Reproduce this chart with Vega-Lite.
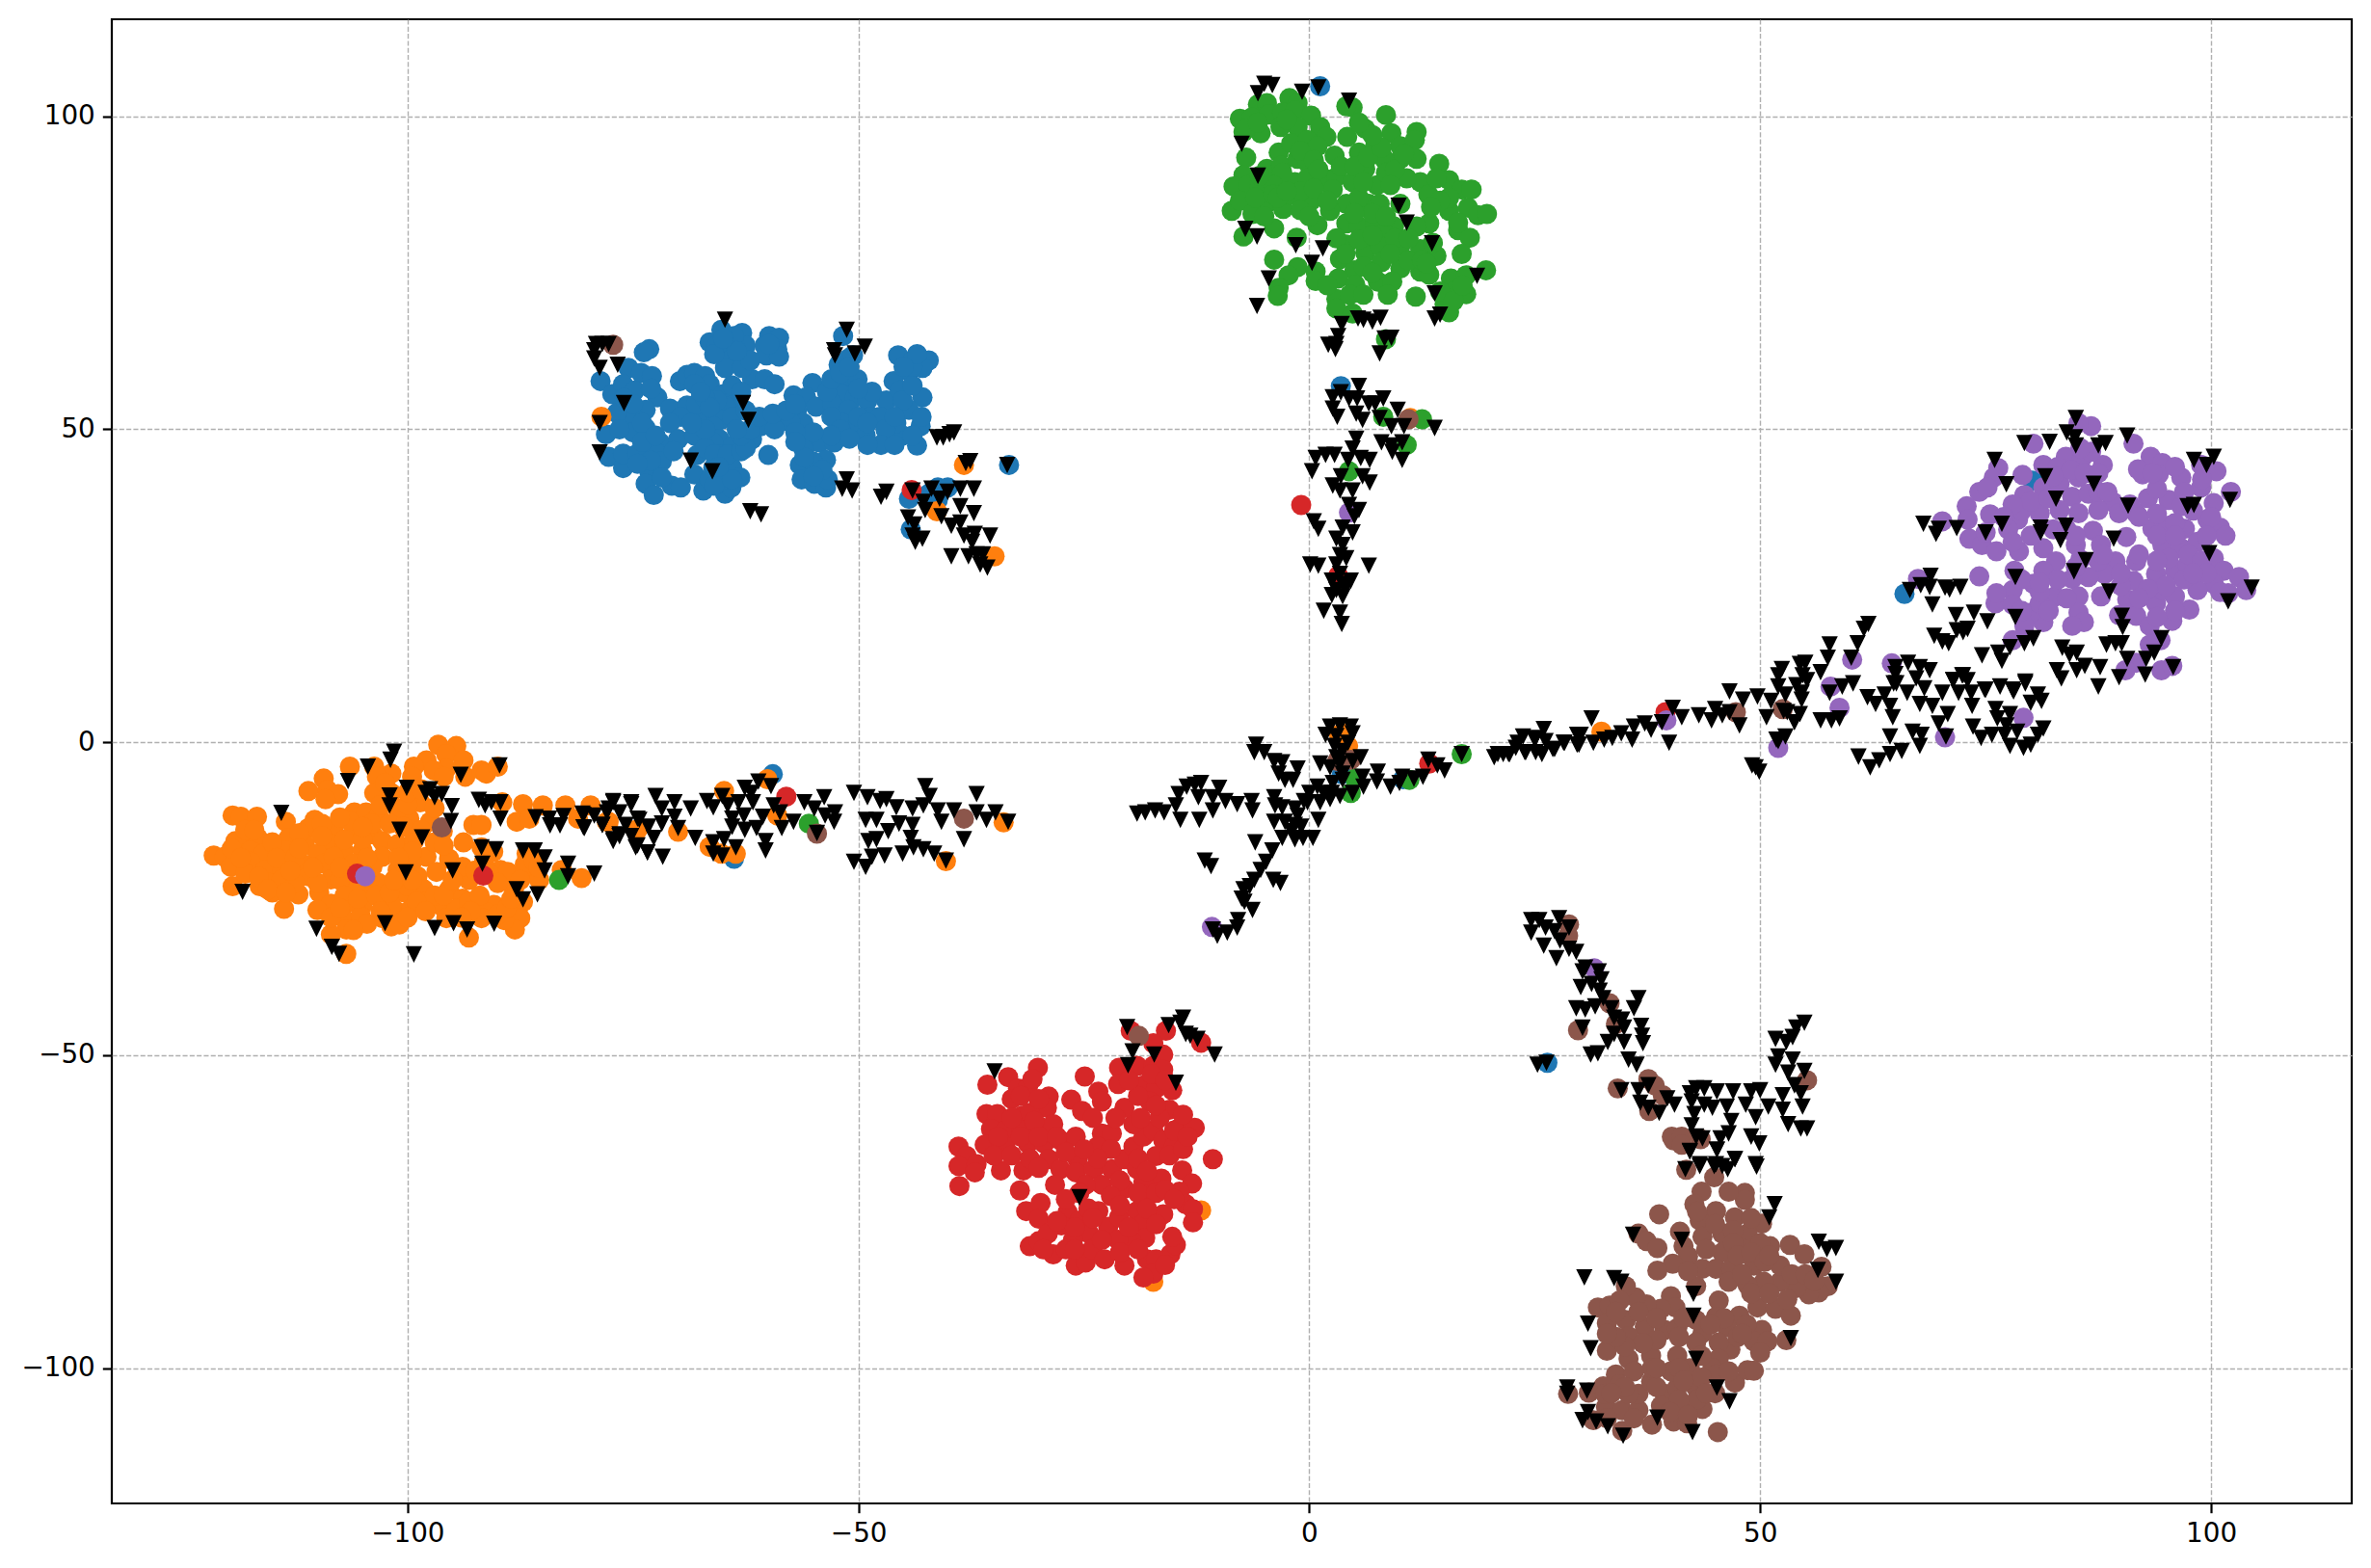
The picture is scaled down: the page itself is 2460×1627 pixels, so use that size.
{"$schema":"https://vega.github.io/schema/vega-lite/v6.json","description":"t-SNE clusters with noise points","width":2324,"height":1540,"autosize":{"type":"none"},"padding":{"left":116,"top":20,"right":20,"bottom":67},"background":"white",
"config":{"view":{"stroke":"black","strokeWidth":2.2},"axis":{"domain":false,"grid":true,"gridColor":"#b0b0b0","gridWidth":1.4,"gridDash":[5.1,2.2],"tickColor":"black","tickSize":9.7,"tickWidth":2.2,"labelFont":"DejaVu Sans","labelFontSize":27.8,"labelColor":"black","labelPadding":8,"title":null,"zindex":1,"format":"d"}},
"datasets":{"clusters":[
{"x":-73.2,"y":62.8,"k":"0"},{"x":-73.8,"y":62.3,"k":"0"},{"x":-78.6,"y":57.7,"k":"0"},{"x":-75.5,"y":59.8,"k":"0"},{"x":-74.1,"y":59,"k":"0"},{"x":-72.9,"y":58.5,"k":"0"},{"x":-77.3,"y":55.6,"k":"0"},{"x":-76.1,"y":57.2,"k":"0"},{"x":-74.8,"y":56.2,"k":"0"},{"x":-72.3,"y":55.1,"k":"0"},{"x":-73.6,"y":53.1,"k":"0"},{"x":-75,"y":52,"k":"0"},{"x":-76.8,"y":52.6,"k":"0"},{"x":-70.9,"y":53.3,"k":"0"},{"x":-69,"y":53.8,"k":"0"},{"x":-69.7,"y":52,"k":"0"},{"x":-70.9,"y":51,"k":"0"},{"x":-69.8,"y":57.7,"k":"0"},{"x":-69,"y":58.7,"k":"0"},{"x":-68.2,"y":59,"k":"0"},{"x":-67,"y":58.5,"k":"0"},{"x":-66.5,"y":57.2,"k":"0"},{"x":-68.2,"y":57.2,"k":"0"},{"x":-65,"y":55.6,"k":"0"},{"x":-63.8,"y":54.6,"k":"0"},{"x":-64.7,"y":53.6,"k":"0"},{"x":-65.7,"y":54.6,"k":"0"},{"x":-67.2,"y":52,"k":"0"},{"x":-65.2,"y":51.5,"k":"0"},{"x":-64,"y":52,"k":"0"},{"x":-66.1,"y":50.5,"k":"0"},{"x":-65.2,"y":65.9,"k":"0"},{"x":-66.5,"y":63.9,"k":"0"},{"x":-64.3,"y":63.4,"k":"0"},{"x":-62.9,"y":65.4,"k":"0"},{"x":-62.5,"y":63.4,"k":"0"},{"x":-65,"y":61.8,"k":"0"},{"x":-63.2,"y":61.3,"k":"0"},{"x":-64.8,"y":59.8,"k":"0"},{"x":-65.7,"y":63.4,"k":"0"},{"x":-63.8,"y":64.9,"k":"0"},{"x":-59.9,"y":64.9,"k":"0"},{"x":-58.8,"y":64.6,"k":"0"},{"x":-60.4,"y":63.4,"k":"0"},{"x":-59,"y":62.8,"k":"0"},{"x":-60.2,"y":61.8,"k":"0"},{"x":-58.8,"y":61.6,"k":"0"},{"x":-59.9,"y":63.6,"k":"0"},{"x":-61.8,"y":58,"k":"0"},{"x":-60.4,"y":58,"k":"0"},{"x":-59.3,"y":57.2,"k":"0"},{"x":-62.9,"y":59.8,"k":"0"},{"x":-57.2,"y":55.4,"k":"0"},{"x":-55.1,"y":57.4,"k":"0"},{"x":-55.8,"y":55.1,"k":"0"},{"x":-54.7,"y":53.6,"k":"0"},{"x":-56.8,"y":53.1,"k":"0"},{"x":-58.6,"y":51.8,"k":"0"},{"x":-56.1,"y":51,"k":"0"},{"x":-57.5,"y":51,"k":"0"},{"x":-60.8,"y":50.5,"k":"0"},{"x":-59.3,"y":50,"k":"0"},{"x":-51.7,"y":64.9,"k":"0"},{"x":-52.2,"y":60.3,"k":"0"},{"x":-51.1,"y":61.3,"k":"0"},{"x":-50.6,"y":61.8,"k":"0"},{"x":-52.9,"y":56.7,"k":"0"},{"x":-51.1,"y":58.2,"k":"0"},{"x":-50.1,"y":58,"k":"0"},{"x":-51.8,"y":55.6,"k":"0"},{"x":-50.4,"y":55.1,"k":"0"},{"x":-52.9,"y":54.1,"k":"0"},{"x":-51.1,"y":53.1,"k":"0"},{"x":-49,"y":54.6,"k":"0"},{"x":-48.6,"y":52,"k":"0"},{"x":-51.8,"y":51,"k":"0"},{"x":-50.1,"y":50.5,"k":"0"},{"x":-46.9,"y":54.6,"k":"0"},{"x":-47.6,"y":52,"k":"0"},{"x":-49.2,"y":49,"k":"0"},{"x":-46.9,"y":48.4,"k":"0"},{"x":-45.6,"y":61.8,"k":"0"},{"x":-44,"y":61,"k":"0"},{"x":-43.3,"y":60.8,"k":"0"},{"x":-42.2,"y":61,"k":"0"},{"x":-44.4,"y":59.2,"k":"0"},{"x":-42.9,"y":59.8,"k":"0"},{"x":-46.1,"y":57.7,"k":"0"},{"x":-45.4,"y":56.2,"k":"0"},{"x":-42.9,"y":55.1,"k":"0"},{"x":-44.4,"y":53.1,"k":"0"},{"x":-45.1,"y":54.6,"k":"0"},{"x":-45.1,"y":49,"k":"0"},{"x":-43.5,"y":47.4,"k":"0"},{"x":-43.1,"y":50.5,"k":"0"},{"x":-45.8,"y":51,"k":"0"},{"x":-78,"y":49.2,"k":"0"},{"x":-75,"y":49.5,"k":"0"},{"x":-73.6,"y":50.2,"k":"0"},{"x":-72,"y":47.9,"k":"0"},{"x":-70,"y":48.4,"k":"0"},{"x":-68.2,"y":49,"k":"0"},{"x":-65.4,"y":48.4,"k":"0"},{"x":-64,"y":47.4,"k":"0"},{"x":-61.8,"y":48.4,"k":"0"},{"x":-60,"y":45.9,"k":"0"},{"x":-66.1,"y":47.9,"k":"0"},{"x":-77.7,"y":45.6,"k":"0"},{"x":-76.1,"y":43.8,"k":"0"},{"x":-76.1,"y":46.1,"k":"0"},{"x":-74.5,"y":46.1,"k":"0"},{"x":-72.5,"y":46.4,"k":"0"},{"x":-71.8,"y":44.9,"k":"0"},{"x":-73.2,"y":43.3,"k":"0"},{"x":-73.6,"y":41.3,"k":"0"},{"x":-72.7,"y":39.5,"k":"0"},{"x":-70.7,"y":41,"k":"0"},{"x":-69.7,"y":40.7,"k":"0"},{"x":-71.8,"y":42.3,"k":"0"},{"x":-67.9,"y":45.9,"k":"0"},{"x":-68.2,"y":42.8,"k":"0"},{"x":-67.2,"y":40.2,"k":"0"},{"x":-66.1,"y":43.8,"k":"0"},{"x":-64.8,"y":39.7,"k":"0"},{"x":-64.1,"y":40.7,"k":"0"},{"x":-64,"y":43.8,"k":"0"},{"x":-63.1,"y":42.3,"k":"0"},{"x":-65.4,"y":45.9,"k":"0"},{"x":-55.4,"y":47.9,"k":"0"},{"x":-54.3,"y":47.9,"k":"0"},{"x":-52.7,"y":47.9,"k":"0"},{"x":-53.6,"y":45.1,"k":"0"},{"x":-56.5,"y":44.3,"k":"0"},{"x":-56.3,"y":42,"k":"0"},{"x":-54.9,"y":41.3,"k":"0"},{"x":-53.6,"y":40.7,"k":"0"},{"x":-53.4,"y":42,"k":"0"},{"x":-55.1,"y":44.9,"k":"0"},{"x":-56.1,"y":46.9,"k":"0"},{"x":-44.4,"y":38.9,"k":"0"},{"x":-44.2,"y":34,"k":"0"},{"x":-41.2,"y":40.7,"k":"0"},{"x":-40.1,"y":40.7,"k":"0"},{"x":-42.2,"y":39.7,"k":"0"},{"x":-41.2,"y":38.7,"k":"0"},{"x":-33.3,"y":44.3,"k":"0"},{"x":1.2,"y":104.8,"k":"0"},{"x":3.5,"y":56.9,"k":"0"},{"x":-59.5,"y":-5.1,"k":"0"},{"x":-63.8,"y":-18.6,"k":"0"},{"x":66,"y":23.7,"k":"0"},{"x":80.2,"y":41.8,"k":"0"},{"x":26.4,"y":-51.2,"k":"0"},{"x":10.4,"y":-5.9,"k":"0"},{"x":3.6,"y":-5.1,"k":"0"},
{"x":-76,"y":55,"k":"0"},{"x":-75,"y":54,"k":"0"},{"x":-73,"y":56.5,"k":"0"},{"x":-74,"y":51,"k":"0"},{"x":-76.5,"y":50,"k":"0"},{"x":-74,"y":48,"k":"0"},{"x":-72.5,"y":49,"k":"0"},{"x":-70.5,"y":46.5,"k":"0"},{"x":-73,"y":45,"k":"0"},{"x":-74.5,"y":44.5,"k":"0"},{"x":-67,"y":47,"k":"0"},{"x":-66,"y":46,"k":"0"},{"x":-64.5,"y":46,"k":"0"},{"x":-63,"y":46.5,"k":"0"},{"x":-62.5,"y":47,"k":"0"},{"x":-66.5,"y":42,"k":"0"},{"x":-65,"y":42,"k":"0"},{"x":-66,"y":41,"k":"0"},{"x":-64,"y":42,"k":"0"},{"x":-65.5,"y":44,"k":"0"},{"x":-63,"y":49,"k":"0"},{"x":-62,"y":50,"k":"0"},{"x":-63.5,"y":50,"k":"0"},{"x":-67,"y":50,"k":"0"},{"x":-68.5,"y":51,"k":"0"},{"x":-68,"y":54,"k":"0"},{"x":-67,"y":55,"k":"0"},{"x":-66.5,"y":53.5,"k":"0"},{"x":-67.5,"y":56,"k":"0"},{"x":-64,"y":57,"k":"0"},{"x":-63,"y":56,"k":"0"},{"x":-62.5,"y":53,"k":"0"},{"x":-61,"y":52,"k":"0"},{"x":-59.5,"y":52.5,"k":"0"},{"x":-58,"y":53,"k":"0"},{"x":-57,"y":54,"k":"0"},{"x":-53.5,"y":56,"k":"0"},{"x":-53,"y":58,"k":"0"},{"x":-52,"y":59,"k":"0"},{"x":-51,"y":60,"k":"0"},{"x":-53,"y":52,"k":"0"},{"x":-52,"y":50,"k":"0"},{"x":-50,"y":52,"k":"0"},{"x":-49,"y":51,"k":"0"},{"x":-47,"y":50,"k":"0"},{"x":-46,"y":52,"k":"0"},{"x":-48.5,"y":56,"k":"0"},{"x":-50,"y":56.5,"k":"0"},{"x":-47.5,"y":47.5,"k":"0"},{"x":-49,"y":47.5,"k":"0"},{"x":-51,"y":48.5,"k":"0"},{"x":-53,"y":49,"k":"0"},{"x":-55,"y":49.5,"k":"0"},{"x":-57,"y":49.5,"k":"0"},{"x":-56,"y":45.5,"k":"0"},{"x":-54,"y":43.5,"k":"0"},{"x":-55,"y":42.5,"k":"0"},{"x":-57,"y":48,"k":"0"},{"x":-44,"y":57,"k":"0"},{"x":-44,"y":60,"k":"0"},{"x":-43.5,"y":62,"k":"0"},{"x":-45,"y":60,"k":"0"},{"x":-43,"y":52,"k":"0"},{"x":-44,"y":49,"k":"0"},{"x":-46,"y":47.5,"k":"0"},{"x":-62,"y":61,"k":"0"},{"x":-63.5,"y":62.5,"k":"0"},{"x":-66,"y":62,"k":"0"},{"x":-65,"y":64.5,"k":"0"},
{"x":-96.6,"y":-0.4,"k":"1"},{"x":-94.6,"y":-0.6,"k":"1"},{"x":-97.9,"y":-2.9,"k":"1"},{"x":-95.7,"y":-1.9,"k":"1"},{"x":-93.8,"y":-2.9,"k":"1"},{"x":-95.7,"y":-4.2,"k":"1"},{"x":-99.3,"y":-3.9,"k":"1"},{"x":-97.1,"y":-4.5,"k":"1"},{"x":-93.6,"y":-5.5,"k":"1"},{"x":-91.8,"y":-4.5,"k":"1"},{"x":-91.3,"y":-5,"k":"1"},{"x":-90,"y":-3.9,"k":"1"},{"x":-106.4,"y":-3.9,"k":"1"},{"x":-103.7,"y":-3.9,"k":"1"},{"x":-101.8,"y":-5,"k":"1"},{"x":-103.4,"y":-5.5,"k":"1"},{"x":-109.3,"y":-5.8,"k":"1"},{"x":-111,"y":-7.8,"k":"1"},{"x":-108.9,"y":-7.6,"k":"1"},{"x":-107.7,"y":-8.3,"k":"1"},{"x":-109.1,"y":-9.1,"k":"1"},{"x":-103.7,"y":-8.1,"k":"1"},{"x":-101.8,"y":-8.1,"k":"1"},{"x":-119.4,"y":-11.7,"k":"1"},{"x":-118.5,"y":-11.9,"k":"1"},{"x":-116.7,"y":-11.9,"k":"1"},{"x":-113.5,"y":-12.7,"k":"1"},{"x":-105.9,"y":-11.2,"k":"1"},{"x":-104.6,"y":-11.2,"k":"1"},{"x":-103.2,"y":-11.7,"k":"1"},{"x":-99.8,"y":-12.2,"k":"1"},{"x":-101.1,"y":-10.6,"k":"1"},{"x":-98.6,"y":-9.6,"k":"1"},{"x":-97.5,"y":-12.7,"k":"1"},{"x":-96.1,"y":-14.2,"k":"1"},{"x":-89.5,"y":-9.6,"k":"1"},{"x":-87.2,"y":-9.9,"k":"1"},{"x":-85,"y":-10.1,"k":"1"},{"x":-82.5,"y":-10.1,"k":"1"},{"x":-79.7,"y":-10.1,"k":"1"},{"x":-87.9,"y":-12.7,"k":"1"},{"x":-86.5,"y":-12.2,"k":"1"},{"x":-81.1,"y":-12.2,"k":"1"},{"x":-77.9,"y":-12.7,"k":"1"},{"x":-74.7,"y":-14,"k":"1"},{"x":-92.7,"y":-13.2,"k":"1"},{"x":-91.8,"y":-13.2,"k":"1"},{"x":-93.8,"y":-16,"k":"1"},{"x":-91.8,"y":-16.8,"k":"1"},{"x":-95.4,"y":-18.6,"k":"1"},{"x":-86.8,"y":-17.8,"k":"1"},{"x":-119.1,"y":-15.8,"k":"1"},{"x":-118,"y":-16,"k":"1"},{"x":-116.6,"y":-15.3,"k":"1"},{"x":-117.4,"y":-17.3,"k":"1"},{"x":-116,"y":-17.8,"k":"1"},{"x":-121.5,"y":-18.1,"k":"1"},{"x":-120.3,"y":-18.3,"k":"1"},{"x":-119.6,"y":-19.9,"k":"1"},{"x":-117.4,"y":-19.1,"k":"1"},{"x":-113.2,"y":-15.3,"k":"1"},{"x":-113.5,"y":-17.3,"k":"1"},{"x":-110.3,"y":-12.4,"k":"1"},{"x":-111,"y":-13.7,"k":"1"},{"x":-111.4,"y":-16.3,"k":"1"},{"x":-108.2,"y":-14,"k":"1"},{"x":-106,"y":-14.5,"k":"1"},{"x":-108.5,"y":-16.3,"k":"1"},{"x":-110,"y":-17.8,"k":"1"},{"x":-107.1,"y":-17.3,"k":"1"},{"x":-103.9,"y":-14.7,"k":"1"},{"x":-105,"y":-17.3,"k":"1"},{"x":-102.8,"y":-15.8,"k":"1"},{"x":-101.1,"y":-16.3,"k":"1"},{"x":-102.8,"y":-18.3,"k":"1"},{"x":-99.3,"y":-15.8,"k":"1"},{"x":-97.9,"y":-18.3,"k":"1"},{"x":-99.5,"y":-19.1,"k":"1"},{"x":-115.8,"y":-20.4,"k":"1"},{"x":-113.9,"y":-20.4,"k":"1"},{"x":-115.3,"y":-22.5,"k":"1"},{"x":-111.7,"y":-19.4,"k":"1"},{"x":-109.3,"y":-19.4,"k":"1"},{"x":-111,"y":-21.4,"k":"1"},{"x":-108.5,"y":-21.9,"k":"1"},{"x":-119.4,"y":-23,"k":"1"},{"x":-116.4,"y":-23,"k":"1"},{"x":-115,"y":-24,"k":"1"},{"x":-112.1,"y":-24.3,"k":"1"},{"x":-109.8,"y":-24,"k":"1"},{"x":-113.7,"y":-26.6,"k":"1"},{"x":-106,"y":-23.5,"k":"1"},{"x":-104.6,"y":-24,"k":"1"},{"x":-103.2,"y":-22.5,"k":"1"},{"x":-101.1,"y":-20.4,"k":"1"},{"x":-98.9,"y":-21.4,"k":"1"},{"x":-96.8,"y":-20.7,"k":"1"},{"x":-98.2,"y":-23.5,"k":"1"},{"x":-100.3,"y":-24,"k":"1"},{"x":-102.8,"y":-25.5,"k":"1"},{"x":-105,"y":-26,"k":"1"},{"x":-106.4,"y":-25.5,"k":"1"},{"x":-108.5,"y":-25.8,"k":"1"},{"x":-110,"y":-26.8,"k":"1"},{"x":-107.1,"y":-28.1,"k":"1"},{"x":-105.2,"y":-27.8,"k":"1"},{"x":-102.8,"y":-28.1,"k":"1"},{"x":-101.1,"y":-27.1,"k":"1"},{"x":-99.6,"y":-26.6,"k":"1"},{"x":-97.9,"y":-25.5,"k":"1"},{"x":-95.4,"y":-23.5,"k":"1"},{"x":-93.9,"y":-25,"k":"1"},{"x":-96.4,"y":-26,"k":"1"},{"x":-94.6,"y":-26.6,"k":"1"},{"x":-93.2,"y":-25.5,"k":"1"},{"x":-93.2,"y":-22,"k":"1"},{"x":-93.9,"y":-19.9,"k":"1"},{"x":-91.4,"y":-17.3,"k":"1"},{"x":-89.7,"y":-20.4,"k":"1"},{"x":-88.9,"y":-20.7,"k":"1"},{"x":-86.8,"y":-20.9,"k":"1"},{"x":-85.4,"y":-22,"k":"1"},{"x":-88.2,"y":-23.5,"k":"1"},{"x":-87.2,"y":-25.5,"k":"1"},{"x":-87.5,"y":-28.1,"k":"1"},{"x":-88.1,"y":-29.9,"k":"1"},{"x":-90.4,"y":-26,"k":"1"},{"x":-91.4,"y":-27.1,"k":"1"},{"x":-91.8,"y":-28.1,"k":"1"},{"x":-89.3,"y":-28.4,"k":"1"},{"x":-93.2,"y":-31.2,"k":"1"},{"x":-95.7,"y":-28.1,"k":"1"},{"x":-101.8,"y":-29.4,"k":"1"},{"x":-100.9,"y":-29.1,"k":"1"},{"x":-106.8,"y":-29.9,"k":"1"},{"x":-108.5,"y":-30.7,"k":"1"},{"x":-106.8,"y":-33.8,"k":"1"},{"x":-82.9,"y":-20.4,"k":"1"},{"x":-80.7,"y":-21.7,"k":"1"},{"x":-108.2,"y":-18.3,"k":"1"},{"x":-106,"y":-19.4,"k":"1"},{"x":-104.6,"y":-20.9,"k":"1"},{"x":-107.5,"y":-22,"k":"1"},{"x":-101.8,"y":-26,"k":"1"},{"x":-103.9,"y":-19.9,"k":"1"},{"x":-100,"y":-23,"k":"1"},{"x":-78.5,"y":52,"k":"1"},{"x":-38.3,"y":44.3,"k":"1"},{"x":-41.3,"y":36.9,"k":"1"},{"x":-34.9,"y":29.7,"k":"1"},{"x":-77.7,"y":-12.7,"k":"1"},{"x":-74.5,"y":-14,"k":"1"},{"x":-70,"y":-14.3,"k":"1"},{"x":-66.5,"y":-16.7,"k":"1"},{"x":-65.2,"y":-17.8,"k":"1"},{"x":-63.6,"y":-17.8,"k":"1"},{"x":-64.9,"y":-7.8,"k":"1"},{"x":-60.1,"y":-5.9,"k":"1"},{"x":-59,"y":-11.7,"k":"1"},{"x":-33.9,"y":-12.8,"k":"1"},{"x":-40.3,"y":-19,"k":"1"},{"x":-12,"y":-74.8,"k":"1"},{"x":-17.3,"y":-86.2,"k":"1"},{"x":32.4,"y":1.7,"k":"1"},{"x":11.2,"y":51.8,"k":"1"},{"x":3.3,"y":1.2,"k":"1"},{"x":3.9,"y":1.4,"k":"1"},{"x":4.3,"y":-0.6,"k":"1"},
{"x":-118,"y":-14,"k":"1"},{"x":-115,"y":-16,"k":"1"},{"x":-114.5,"y":-18.5,"k":"1"},{"x":-112.5,"y":-18.5,"k":"1"},{"x":-112,"y":-14.5,"k":"1"},{"x":-109.5,"y":-13,"k":"1"},{"x":-109.5,"y":-15,"k":"1"},{"x":-107,"y":-15.5,"k":"1"},{"x":-105,"y":-15.5,"k":"1"},{"x":-104,"y":-13,"k":"1"},{"x":-102,"y":-13,"k":"1"},{"x":-100.5,"y":-13.5,"k":"1"},{"x":-106.5,"y":-12.5,"k":"1"},{"x":-98.5,"y":-14,"k":"1"},{"x":-97,"y":-16,"k":"1"},{"x":-96,"y":-16.5,"k":"1"},{"x":-99.5,"y":-17.5,"k":"1"},{"x":-101,"y":-18.5,"k":"1"},{"x":-104.5,"y":-18.5,"k":"1"},{"x":-114,"y":-22,"k":"1"},{"x":-112.5,"y":-22.5,"k":"1"},{"x":-110,"y":-22.5,"k":"1"},{"x":-118,"y":-21,"k":"1"},{"x":-116.5,"y":-21.5,"k":"1"},{"x":-110.5,"y":-20,"k":"1"},{"x":-107.5,"y":-20,"k":"1"},{"x":-107,"y":-24.5,"k":"1"},{"x":-105.5,"y":-25,"k":"1"},{"x":-103.5,"y":-24.5,"k":"1"},{"x":-102,"y":-24,"k":"1"},{"x":-101.5,"y":-22,"k":"1"},{"x":-99.5,"y":-22,"k":"1"},{"x":-97,"y":-24.5,"k":"1"},{"x":-99,"y":-25.5,"k":"1"},{"x":-103,"y":-27,"k":"1"},{"x":-104.5,"y":-29,"k":"1"},{"x":-106,"y":-30,"k":"1"},{"x":-108.5,"y":-28,"k":"1"},{"x":-107.5,"y":-26.5,"k":"1"},{"x":-100,"y":-28,"k":"1"},{"x":-98,"y":-27,"k":"1"},{"x":-96,"y":-24.5,"k":"1"},{"x":-92,"y":-24.5,"k":"1"},{"x":-93,"y":-27,"k":"1"},{"x":-94,"y":-28,"k":"1"},{"x":-90,"y":-27.5,"k":"1"},{"x":-89,"y":-26.5,"k":"1"},{"x":-88.5,"y":-25,"k":"1"},{"x":-91.5,"y":-19,"k":"1"},{"x":-91,"y":-21,"k":"1"},{"x":-90,"y":-22.5,"k":"1"},{"x":-92.5,"y":-20.5,"k":"1"},{"x":-95,"y":-22,"k":"1"},{"x":-100,"y":-10,"k":"1"},{"x":-100,"y":-8,"k":"1"},{"x":-98.5,"y":-7.5,"k":"1"},{"x":-97,"y":-10.5,"k":"1"},{"x":-99.5,"y":-5.5,"k":"1"},{"x":-96,"y":-5.5,"k":"1"},{"x":-103,"y":-10,"k":"1"},{"x":-105,"y":-13.5,"k":"1"},{"x":-102.5,"y":-6.5,"k":"1"},{"x":-107.5,"y":-12,"k":"1"},{"x":-117,"y":-14,"k":"1"},{"x":-119.5,"y":-17,"k":"1"},{"x":-118.5,"y":-18.5,"k":"1"},{"x":-115.5,"y":-23.5,"k":"1"},{"x":-113.5,"y":-24,"k":"1"},{"x":-113,"y":-20.5,"k":"1"},{"x":-112,"y":-17,"k":"1"},{"x":-87,"y":-19.5,"k":"1"},{"x":-86,"y":-19,"k":"1"},{"x":-85.5,"y":-20,"k":"1"},{"x":-87.5,"y":-22,"k":"1"},{"x":-90.5,"y":-17.5,"k":"1"},
{"x":-5.7,"y":101.9,"k":"2"},{"x":-4.7,"y":102.1,"k":"2"},{"x":-2.2,"y":102.9,"k":"2"},{"x":-1.3,"y":102.1,"k":"2"},{"x":-7.7,"y":99.6,"k":"2"},{"x":-6.4,"y":99.8,"k":"2"},{"x":-4.5,"y":100.3,"k":"2"},{"x":-3,"y":100.6,"k":"2"},{"x":-1.6,"y":100.9,"k":"2"},{"x":0.2,"y":100.1,"k":"2"},{"x":-7.3,"y":97.5,"k":"2"},{"x":-5.4,"y":97.3,"k":"2"},{"x":-3.2,"y":98.3,"k":"2"},{"x":-1.3,"y":98.3,"k":"2"},{"x":1.2,"y":98.3,"k":"2"},{"x":1.9,"y":96.7,"k":"2"},{"x":-3.4,"y":94.2,"k":"2"},{"x":-2,"y":95.7,"k":"2"},{"x":-0.2,"y":96.2,"k":"2"},{"x":0.9,"y":95.2,"k":"2"},{"x":-7,"y":93.4,"k":"2"},{"x":-4.7,"y":91.6,"k":"2"},{"x":-3.1,"y":92.1,"k":"2"},{"x":-1.3,"y":93.2,"k":"2"},{"x":-0.2,"y":92.6,"k":"2"},{"x":-7.3,"y":90.6,"k":"2"},{"x":-8.4,"y":88.8,"k":"2"},{"x":-6.8,"y":89,"k":"2"},{"x":-5.5,"y":88.8,"k":"2"},{"x":-3.2,"y":89.5,"k":"2"},{"x":-1.6,"y":89.5,"k":"2"},{"x":-0.2,"y":90.1,"k":"2"},{"x":1.6,"y":90.1,"k":"2"},{"x":-8.6,"y":84.9,"k":"2"},{"x":-7.7,"y":86.5,"k":"2"},{"x":-6.3,"y":84.4,"k":"2"},{"x":-4.8,"y":86,"k":"2"},{"x":-2.9,"y":85.2,"k":"2"},{"x":-2,"y":87.5,"k":"2"},{"x":0.2,"y":86.5,"k":"2"},{"x":-3.9,"y":82.1,"k":"2"},{"x":0.9,"y":82.6,"k":"2"},{"x":-7.3,"y":80.8,"k":"2"},{"x":-1.4,"y":80.6,"k":"2"},{"x":-3.9,"y":77.1,"k":"2"},{"x":-1.3,"y":75.9,"k":"2"},{"x":-2.3,"y":74.6,"k":"2"},{"x":-3.4,"y":72.6,"k":"2"},{"x":-3.5,"y":71.3,"k":"2"},{"x":0.7,"y":75.2,"k":"2"},{"x":0.7,"y":73.7,"k":"2"},{"x":2.8,"y":93.7,"k":"2"},{"x":4.2,"y":96.7,"k":"2"},{"x":6.2,"y":98,"k":"2"},{"x":4.8,"y":101.4,"k":"2"},{"x":4.1,"y":101.6,"k":"2"},{"x":8.5,"y":100.2,"k":"2"},{"x":5.5,"y":94.2,"k":"2"},{"x":7.3,"y":95.2,"k":"2"},{"x":9.1,"y":97.3,"k":"2"},{"x":10.1,"y":95.2,"k":"2"},{"x":11.9,"y":97.5,"k":"2"},{"x":11.7,"y":96.2,"k":"2"},{"x":11.9,"y":93.2,"k":"2"},{"x":10.1,"y":93.2,"k":"2"},{"x":8.3,"y":93.2,"k":"2"},{"x":6.2,"y":91.6,"k":"2"},{"x":3,"y":90.3,"k":"2"},{"x":4.8,"y":89.5,"k":"2"},{"x":2.6,"y":88.3,"k":"2"},{"x":4.1,"y":86,"k":"2"},{"x":2.3,"y":84.9,"k":"2"},{"x":7.5,"y":89,"k":"2"},{"x":6.6,"y":86,"k":"2"},{"x":7.8,"y":86,"k":"2"},{"x":5.5,"y":87,"k":"2"},{"x":4.1,"y":82.9,"k":"2"},{"x":5.5,"y":82.4,"k":"2"},{"x":7.3,"y":82.9,"k":"2"},{"x":10.1,"y":86,"k":"2"},{"x":12.3,"y":89.5,"k":"2"},{"x":10.8,"y":90.1,"k":"2"},{"x":13.2,"y":87.5,"k":"2"},{"x":14.4,"y":92.4,"k":"2"},{"x":15.5,"y":89.8,"k":"2"},{"x":14.1,"y":90.1,"k":"2"},{"x":16.9,"y":88.3,"k":"2"},{"x":18,"y":88.3,"k":"2"},{"x":15.5,"y":84.9,"k":"2"},{"x":17.6,"y":85.4,"k":"2"},{"x":18.7,"y":84.2,"k":"2"},{"x":19.7,"y":84.4,"k":"2"},{"x":16.5,"y":81.8,"k":"2"},{"x":17.8,"y":80.6,"k":"2"},{"x":16.9,"y":78,"k":"2"},{"x":13.3,"y":82.9,"k":"2"},{"x":11.9,"y":82.4,"k":"2"},{"x":9.4,"y":82.4,"k":"2"},{"x":8.3,"y":81.3,"k":"2"},{"x":4.1,"y":79.5,"k":"2"},{"x":6.2,"y":78.2,"k":"2"},{"x":5.5,"y":80.3,"k":"2"},{"x":7.8,"y":79.3,"k":"2"},{"x":10.1,"y":79.3,"k":"2"},{"x":12.3,"y":78.8,"k":"2"},{"x":14.1,"y":77.7,"k":"2"},{"x":13.7,"y":79.8,"k":"2"},{"x":3.4,"y":77.2,"k":"2"},{"x":5,"y":75.4,"k":"2"},{"x":8,"y":76.7,"k":"2"},{"x":10.1,"y":75.7,"k":"2"},{"x":12.3,"y":75.2,"k":"2"},{"x":13.3,"y":74.7,"k":"2"},{"x":3.2,"y":74.1,"k":"2"},{"x":5.1,"y":73.1,"k":"2"},{"x":7.6,"y":73.6,"k":"2"},{"x":9.2,"y":73.6,"k":"2"},{"x":8.7,"y":71.5,"k":"2"},{"x":11.8,"y":71.2,"k":"2"},{"x":3,"y":70.8,"k":"2"},{"x":3,"y":69.3,"k":"2"},{"x":4.8,"y":68.5,"k":"2"},{"x":15.7,"y":74.1,"k":"2"},{"x":17.4,"y":74.6,"k":"2"},{"x":19.6,"y":75.4,"k":"2"},{"x":17.4,"y":71.6,"k":"2"},{"x":16.2,"y":72.1,"k":"2"},{"x":15,"y":70,"k":"2"},{"x":15.5,"y":68.7,"k":"2"},{"x":8.5,"y":64.4,"k":"2"},{"x":8.2,"y":52,"k":"2"},{"x":12.5,"y":51.6,"k":"2"},{"x":10.8,"y":47.5,"k":"2"},{"x":4.4,"y":43.3,"k":"2"},{"x":-83.2,"y":-22,"k":"2"},{"x":-55.5,"y":-13,"k":"2"},{"x":4.6,"y":-8.1,"k":"2"},{"x":11.1,"y":-6,"k":"2"},{"x":16.9,"y":-1.9,"k":"2"},{"x":5.1,"y":-5.8,"k":"2"},
{"x":-1,"y":94.5,"k":"2"},{"x":0.5,"y":93,"k":"2"},{"x":1,"y":91.5,"k":"2"},{"x":-3,"y":91,"k":"2"},{"x":-4,"y":89,"k":"2"},{"x":-5.5,"y":90.5,"k":"2"},{"x":-6,"y":87,"k":"2"},{"x":-4,"y":87.5,"k":"2"},{"x":-1,"y":88,"k":"2"},{"x":0.5,"y":88.5,"k":"2"},{"x":-3.5,"y":87,"k":"2"},{"x":-1,"y":85,"k":"2"},{"x":0,"y":84,"k":"2"},{"x":-5,"y":84,"k":"2"},{"x":-2.5,"y":88,"k":"2"},{"x":2,"y":86.5,"k":"2"},{"x":3.5,"y":92,"k":"2"},{"x":5,"y":92,"k":"2"},{"x":6.5,"y":93.5,"k":"2"},{"x":8,"y":95,"k":"2"},{"x":7,"y":97,"k":"2"},{"x":8.5,"y":91,"k":"2"},{"x":9.5,"y":91.5,"k":"2"},{"x":6,"y":89.5,"k":"2"},{"x":9,"y":89,"k":"2"},{"x":7,"y":84.5,"k":"2"},{"x":5,"y":84.5,"k":"2"},{"x":8.5,"y":84,"k":"2"},{"x":9.5,"y":80.5,"k":"2"},{"x":11,"y":80.5,"k":"2"},{"x":7,"y":81,"k":"2"},{"x":3,"y":80.5,"k":"2"},{"x":4,"y":78,"k":"2"},{"x":6,"y":76,"k":"2"},{"x":7,"y":75,"k":"2"},{"x":9,"y":78,"k":"2"},{"x":11,"y":77,"k":"2"},{"x":12.5,"y":77,"k":"2"},{"x":13,"y":76.5,"k":"2"},{"x":15.5,"y":87,"k":"2"},{"x":14.5,"y":86.5,"k":"2"},{"x":13.5,"y":85.5,"k":"2"},{"x":16.5,"y":83,"k":"2"},{"x":4.5,"y":71.5,"k":"2"},{"x":6,"y":71.5,"k":"2"},{"x":2,"y":73,"k":"2"},{"x":14.5,"y":72,"k":"2"},{"x":16,"y":70.5,"k":"2"},{"x":17,"y":73,"k":"2"},{"x":5.5,"y":99,"k":"2"},{"x":10.5,"y":94,"k":"2"},{"x":-7,"y":98,"k":"2"},{"x":-5.7,"y":99,"k":"2"},{"x":-2.5,"y":99.5,"k":"2"},
{"x":-19.8,"y":-46.1,"k":"3"},{"x":-15.9,"y":-46.1,"k":"3"},{"x":-12,"y":-48,"k":"3"},{"x":-17.3,"y":-48.1,"k":"3"},{"x":-16.2,"y":-49.9,"k":"3"},{"x":-21.1,"y":-52,"k":"3"},{"x":-21.2,"y":-54.6,"k":"3"},{"x":-19.1,"y":-51.7,"k":"3"},{"x":-17.3,"y":-51.7,"k":"3"},{"x":-16.2,"y":-52.3,"k":"3"},{"x":-15.2,"y":-55.6,"k":"3"},{"x":-18.4,"y":-54.8,"k":"3"},{"x":-17,"y":-55.3,"k":"3"},{"x":-35.7,"y":-54.7,"k":"3"},{"x":-33.4,"y":-53.5,"k":"3"},{"x":-32.3,"y":-55.3,"k":"3"},{"x":-31.2,"y":-55.1,"k":"3"},{"x":-30.1,"y":-52,"k":"3"},{"x":-30.7,"y":-53.8,"k":"3"},{"x":-28.9,"y":-56.6,"k":"3"},{"x":-29.1,"y":-58.4,"k":"3"},{"x":-24.9,"y":-53.4,"k":"3"},{"x":-26.4,"y":-57.1,"k":"3"},{"x":-23.4,"y":-55.8,"k":"3"},{"x":-25.2,"y":-58.9,"k":"3"},{"x":-23,"y":-57.4,"k":"3"},{"x":-35.8,"y":-59.4,"k":"3"},{"x":-34.6,"y":-59.4,"k":"3"},{"x":-35.3,"y":-61.8,"k":"3"},{"x":-31.9,"y":-59.7,"k":"3"},{"x":-31,"y":-59.2,"k":"3"},{"x":-33.7,"y":-62,"k":"3"},{"x":-31.9,"y":-62,"k":"3"},{"x":-29.8,"y":-61.5,"k":"3"},{"x":-28.4,"y":-61,"k":"3"},{"x":-36,"y":-64.3,"k":"3"},{"x":-33.7,"y":-64.6,"k":"3"},{"x":-31.2,"y":-64.1,"k":"3"},{"x":-29.4,"y":-64.1,"k":"3"},{"x":-38.9,"y":-64.6,"k":"3"},{"x":-38,"y":-66.1,"k":"3"},{"x":-38.9,"y":-67.7,"k":"3"},{"x":-36.9,"y":-67.4,"k":"3"},{"x":-37.1,"y":-68.7,"k":"3"},{"x":-38.8,"y":-70.9,"k":"3"},{"x":-34.2,"y":-68.4,"k":"3"},{"x":-31.7,"y":-68.4,"k":"3"},{"x":-32.1,"y":-71.6,"k":"3"},{"x":-28.9,"y":-66.6,"k":"3"},{"x":-27.6,"y":-63.6,"k":"3"},{"x":-25.9,"y":-63,"k":"3"},{"x":-23,"y":-62.5,"k":"3"},{"x":-21.9,"y":-62.5,"k":"3"},{"x":-23.5,"y":-64.6,"k":"3"},{"x":-25.7,"y":-66.6,"k":"3"},{"x":-27.6,"y":-68.2,"k":"3"},{"x":-28.2,"y":-70.7,"k":"3"},{"x":-25.9,"y":-68.7,"k":"3"},{"x":-23.9,"y":-68.2,"k":"3"},{"x":-21.9,"y":-68.2,"k":"3"},{"x":-20.5,"y":-66.6,"k":"3"},{"x":-19.5,"y":-64.6,"k":"3"},{"x":-18.4,"y":-63,"k":"3"},{"x":-17.3,"y":-62,"k":"3"},{"x":-16.2,"y":-63.6,"k":"3"},{"x":-15,"y":-64.6,"k":"3"},{"x":-15.5,"y":-58.7,"k":"3"},{"x":-14.3,"y":-61.5,"k":"3"},{"x":-12.7,"y":-61.6,"k":"3"},{"x":-19.5,"y":-61,"k":"3"},{"x":-20.5,"y":-58.4,"k":"3"},{"x":-17.7,"y":-57.4,"k":"3"},{"x":-18.7,"y":-60,"k":"3"},{"x":-16.6,"y":-60,"k":"3"},{"x":-10.7,"y":-66.6,"k":"3"},{"x":-14.1,"y":-68.4,"k":"3"},{"x":-13,"y":-70.5,"k":"3"},{"x":-16.4,"y":-69.7,"k":"3"},{"x":-14.4,"y":-71.8,"k":"3"},{"x":-13.7,"y":-73.8,"k":"3"},{"x":-12.9,"y":-74.6,"k":"3"},{"x":-12.9,"y":-76.7,"k":"3"},{"x":-16.2,"y":-75.4,"k":"3"},{"x":-18.4,"y":-70.2,"k":"3"},{"x":-19.1,"y":-68.2,"k":"3"},{"x":-17,"y":-66.1,"k":"3"},{"x":-18.4,"y":-72.3,"k":"3"},{"x":-20.5,"y":-71.3,"k":"3"},{"x":-23,"y":-70.7,"k":"3"},{"x":-24.8,"y":-70.7,"k":"3"},{"x":-31.4,"y":-74.9,"k":"3"},{"x":-29.8,"y":-73.6,"k":"3"},{"x":-30,"y":-76.1,"k":"3"},{"x":-26.8,"y":-75.1,"k":"3"},{"x":-27.5,"y":-77.2,"k":"3"},{"x":-25.5,"y":-76.4,"k":"3"},{"x":-23.4,"y":-74.9,"k":"3"},{"x":-22.3,"y":-77.4,"k":"3"},{"x":-21.1,"y":-75.9,"k":"3"},{"x":-19.1,"y":-74.9,"k":"3"},{"x":-18.4,"y":-76.9,"k":"3"},{"x":-18.2,"y":-79.2,"k":"3"},{"x":-19.8,"y":-79.5,"k":"3"},{"x":-21.2,"y":-79.5,"k":"3"},{"x":-24.4,"y":-78.5,"k":"3"},{"x":-26.2,"y":-79.5,"k":"3"},{"x":-31,"y":-80.5,"k":"3"},{"x":-30,"y":-79.7,"k":"3"},{"x":-28.4,"y":-81.8,"k":"3"},{"x":-27,"y":-81,"k":"3"},{"x":-25.9,"y":-83.6,"k":"3"},{"x":-24.8,"y":-83.1,"k":"3"},{"x":-24.1,"y":-81,"k":"3"},{"x":-22.7,"y":-82.6,"k":"3"},{"x":-20.5,"y":-83.6,"k":"3"},{"x":-18,"y":-82.6,"k":"3"},{"x":-17,"y":-82.6,"k":"3"},{"x":-17.3,"y":-84.9,"k":"3"},{"x":-18.4,"y":-85.5,"k":"3"},{"x":-15.4,"y":-81.8,"k":"3"},{"x":-14.8,"y":-80.3,"k":"3"},{"x":-15.2,"y":-79,"k":"3"},{"x":-105.6,"y":-21,"k":"3"},{"x":-91.6,"y":-21.3,"k":"3"},{"x":-58,"y":-8.7,"k":"3"},{"x":-44.1,"y":40.3,"k":"3"},{"x":-0.9,"y":37.9,"k":"3"},{"x":3.2,"y":26.6,"k":"3"},{"x":13.3,"y":-3.4,"k":"3"},{"x":39.5,"y":4.8,"k":"3"},
{"x":-33,"y":-57,"k":"3"},{"x":-32,"y":-56.5,"k":"3"},{"x":-30,"y":-57,"k":"3"},{"x":-33,"y":-60,"k":"3"},{"x":-30.5,"y":-60.5,"k":"3"},{"x":-32,"y":-63,"k":"3"},{"x":-34.5,"y":-63,"k":"3"},{"x":-30,"y":-63,"k":"3"},{"x":-28,"y":-63,"k":"3"},{"x":-35,"y":-66,"k":"3"},{"x":-33,"y":-66,"k":"3"},{"x":-31,"y":-66.5,"k":"3"},{"x":-30,"y":-68,"k":"3"},{"x":-27,"y":-65.5,"k":"3"},{"x":-24,"y":-60,"k":"3"},{"x":-21.5,"y":-60,"k":"3"},{"x":-22,"y":-65,"k":"3"},{"x":-21,"y":-70,"k":"3"},{"x":-25.5,"y":-72,"k":"3"},{"x":-22,"y":-72.5,"k":"3"},{"x":-27,"y":-73,"k":"3"},{"x":-24.5,"y":-74.5,"k":"3"},{"x":-26,"y":-77.5,"k":"3"},{"x":-23,"y":-79.5,"k":"3"},{"x":-21,"y":-81.5,"k":"3"},{"x":-24,"y":-76,"k":"3"},{"x":-19,"y":-72,"k":"3"},{"x":-17,"y":-72,"k":"3"},{"x":-16,"y":-71.5,"k":"3"},{"x":-15,"y":-73,"k":"3"},{"x":-15.5,"y":-66,"k":"3"},{"x":-14,"y":-65,"k":"3"},{"x":-15,"y":-62,"k":"3"},{"x":-14,"y":-59.5,"k":"3"},{"x":-17,"y":-58,"k":"3"},{"x":-19,"y":-56.5,"k":"3"},{"x":-20,"y":-54,"k":"3"},{"x":-17.5,"y":-53,"k":"3"},{"x":-16,"y":-54,"k":"3"},{"x":-29,"y":-78.5,"k":"3"},{"x":-28,"y":-76.5,"k":"3"},{"x":-26,"y":-81,"k":"3"},{"x":-29.5,"y":-81,"k":"3"},{"x":-18,"y":-74.5,"k":"3"},{"x":-17,"y":-77,"k":"3"},{"x":-20,"y":-77.5,"k":"3"},{"x":-16,"y":-83.5,"k":"3"},{"x":-19,"y":-81,"k":"3"},{"x":-23.5,"y":-66.5,"k":"3"},{"x":-25,"y":-65,"k":"3"},{"x":-19,"y":-66.5,"k":"3"},{"x":-18,"y":-68.5,"k":"3"},{"x":-21,"y":-74,"k":"3"},{"x":-13.5,"y":-63,"k":"3"},
{"x":86.7,"y":50.5,"k":"4"},{"x":85.3,"y":51,"k":"4"},{"x":80.3,"y":47.7,"k":"4"},{"x":91.4,"y":47.7,"k":"4"},{"x":93.3,"y":45.6,"k":"4"},{"x":94.6,"y":44.6,"k":"4"},{"x":81.4,"y":44.3,"k":"4"},{"x":83.9,"y":45.6,"k":"4"},{"x":85.7,"y":45.4,"k":"4"},{"x":88,"y":44.3,"k":"4"},{"x":86.7,"y":46.4,"k":"4"},{"x":76.4,"y":43.8,"k":"4"},{"x":75.9,"y":42.3,"k":"4"},{"x":79.1,"y":42.7,"k":"4"},{"x":74.3,"y":40,"k":"4"},{"x":72.9,"y":37.7,"k":"4"},{"x":75.2,"y":40.7,"k":"4"},{"x":75.5,"y":36.4,"k":"4"},{"x":79.3,"y":39.5,"k":"4"},{"x":81.4,"y":40.7,"k":"4"},{"x":83.2,"y":41.3,"k":"4"},{"x":85.3,"y":42.3,"k":"4"},{"x":84.6,"y":39.2,"k":"4"},{"x":86.4,"y":39.7,"k":"4"},{"x":89.1,"y":38.4,"k":"4"},{"x":89.8,"y":36.6,"k":"4"},{"x":91.7,"y":36.6,"k":"4"},{"x":92.4,"y":42.8,"k":"4"},{"x":91.9,"y":43.6,"k":"4"},{"x":94.2,"y":42.8,"k":"4"},{"x":96.7,"y":42.3,"k":"4"},{"x":98.9,"y":44.3,"k":"4"},{"x":100.6,"y":43.3,"k":"4"},{"x":102.2,"y":40,"k":"4"},{"x":100.3,"y":38.2,"k":"4"},{"x":95.3,"y":38.7,"k":"4"},{"x":96.7,"y":37.7,"k":"4"},{"x":98.9,"y":40.7,"k":"4"},{"x":87.5,"y":37.1,"k":"4"},{"x":85.3,"y":36.6,"k":"4"},{"x":83.2,"y":37.1,"k":"4"},{"x":81,"y":36.6,"k":"4"},{"x":78.6,"y":35.6,"k":"4"},{"x":77.5,"y":34,"k":"4"},{"x":73,"y":35.6,"k":"4"},{"x":70.2,"y":35.3,"k":"4"},{"x":73.2,"y":32.5,"k":"4"},{"x":74.6,"y":31.5,"k":"4"},{"x":76.2,"y":30.5,"k":"4"},{"x":78.7,"y":30.5,"k":"4"},{"x":81.4,"y":31,"k":"4"},{"x":82.8,"y":28.9,"k":"4"},{"x":85,"y":31.5,"k":"4"},{"x":85.5,"y":29.2,"k":"4"},{"x":86.9,"y":33.8,"k":"4"},{"x":87.8,"y":31.5,"k":"4"},{"x":90.6,"y":32.8,"k":"4"},{"x":93.5,"y":34.1,"k":"4"},{"x":95.3,"y":34.6,"k":"4"},{"x":97.1,"y":34.1,"k":"4"},{"x":99.6,"y":35.6,"k":"4"},{"x":101,"y":34.3,"k":"4"},{"x":101.6,"y":33,"k":"4"},{"x":94.6,"y":31.5,"k":"4"},{"x":96.7,"y":31,"k":"4"},{"x":98.5,"y":32,"k":"4"},{"x":100.3,"y":29.4,"k":"4"},{"x":101.4,"y":27.4,"k":"4"},{"x":103.1,"y":26.4,"k":"4"},{"x":103.9,"y":24.3,"k":"4"},{"x":101.9,"y":23.8,"k":"4"},{"x":100.3,"y":25.3,"k":"4"},{"x":98.5,"y":24.3,"k":"4"},{"x":97.6,"y":21.2,"k":"4"},{"x":95.7,"y":19.4,"k":"4"},{"x":93.9,"y":22.2,"k":"4"},{"x":94.6,"y":24.3,"k":"4"},{"x":93.9,"y":26.9,"k":"4"},{"x":96,"y":27.4,"k":"4"},{"x":91.7,"y":28.9,"k":"4"},{"x":89.4,"y":28.9,"k":"4"},{"x":91.4,"y":25.8,"k":"4"},{"x":88.2,"y":26.9,"k":"4"},{"x":86.4,"y":26.4,"k":"4"},{"x":84.6,"y":26.1,"k":"4"},{"x":90.7,"y":22.8,"k":"4"},{"x":89.8,"y":20.3,"k":"4"},{"x":91.7,"y":20.2,"k":"4"},{"x":93.2,"y":18.6,"k":"4"},{"x":87.8,"y":23.3,"k":"4"},{"x":85.3,"y":23.3,"k":"4"},{"x":85.3,"y":20.7,"k":"4"},{"x":85.9,"y":19.2,"k":"4"},{"x":84.6,"y":18.6,"k":"4"},{"x":81.4,"y":27.4,"k":"4"},{"x":82.7,"y":23.3,"k":"4"},{"x":80.3,"y":25.3,"k":"4"},{"x":78.2,"y":27.4,"k":"4"},{"x":78,"y":24.3,"k":"4"},{"x":76.1,"y":22.2,"k":"4"},{"x":76.2,"y":23.8,"k":"4"},{"x":81.4,"y":19.2,"k":"4"},{"x":80,"y":20.7,"k":"4"},{"x":79.3,"y":18.6,"k":"4"},{"x":78,"y":16.3,"k":"4"},{"x":74.3,"y":26.5,"k":"4"},{"x":67.5,"y":26.1,"k":"4"},{"x":64.6,"y":12.6,"k":"4"},{"x":94.4,"y":16.3,"k":"4"},{"x":93.2,"y":15.6,"k":"4"},{"x":91.7,"y":12.7,"k":"4"},{"x":90.5,"y":11.5,"k":"4"},{"x":94.5,"y":11.5,"k":"4"},{"x":95.7,"y":12.2,"k":"4"},{"x":95.3,"y":29.4,"k":"4"},{"x":97.4,"y":28.4,"k":"4"},{"x":96,"y":23.3,"k":"4"},{"x":81,"y":22.2,"k":"4"},{"x":-104.7,"y":-21.4,"k":"4"},{"x":4.4,"y":36.7,"k":"4"},{"x":-10.8,"y":-29.5,"k":"4"},{"x":60.2,"y":13.2,"k":"4"},{"x":57.8,"y":8.9,"k":"4"},{"x":58.8,"y":5.5,"k":"4"},{"x":52,"y":-0.9,"k":"4"},{"x":70.5,"y":0.8,"k":"4"},{"x":79.2,"y":3.9,"k":"4"},{"x":39.6,"y":3.5,"k":"4"},{"x":31.6,"y":-36.1,"k":"4"},
{"x":79,"y":37,"k":"4"},{"x":80,"y":38.5,"k":"4"},{"x":82,"y":39,"k":"4"},{"x":78,"y":38,"k":"4"},{"x":77,"y":36,"k":"4"},{"x":75,"y":33.5,"k":"4"},{"x":78,"y":32,"k":"4"},{"x":80,"y":33,"k":"4"},{"x":82.5,"y":34,"k":"4"},{"x":84,"y":34,"k":"4"},{"x":85,"y":33,"k":"4"},{"x":83,"y":44,"k":"4"},{"x":84.5,"y":43.5,"k":"4"},{"x":86,"y":43,"k":"4"},{"x":87.5,"y":43,"k":"4"},{"x":85.5,"y":47,"k":"4"},{"x":82.5,"y":42.5,"k":"4"},{"x":87.5,"y":40,"k":"4"},{"x":88.5,"y":40,"k":"4"},{"x":91,"y":38,"k":"4"},{"x":93,"y":39,"k":"4"},{"x":94,"y":40.5,"k":"4"},{"x":97,"y":40,"k":"4"},{"x":99,"y":42,"k":"4"},{"x":96,"y":44,"k":"4"},{"x":93.5,"y":43,"k":"4"},{"x":92,"y":36,"k":"4"},{"x":94,"y":36.5,"k":"4"},{"x":96,"y":35,"k":"4"},{"x":98,"y":37,"k":"4"},{"x":100,"y":36,"k":"4"},{"x":94,"y":33,"k":"4"},{"x":92,"y":30,"k":"4"},{"x":94,"y":29,"k":"4"},{"x":96,"y":33,"k":"4"},{"x":97.5,"y":30,"k":"4"},{"x":99,"y":29,"k":"4"},{"x":97,"y":26,"k":"4"},{"x":95,"y":25,"k":"4"},{"x":93,"y":24.5,"k":"4"},{"x":96,"y":21,"k":"4"},{"x":94,"y":20,"k":"4"},{"x":92,"y":23,"k":"4"},{"x":90,"y":25,"k":"4"},{"x":90,"y":27,"k":"4"},{"x":87.5,"y":29,"k":"4"},{"x":85,"y":28,"k":"4"},{"x":83,"y":26,"k":"4"},{"x":81,"y":24,"k":"4"},{"x":79,"y":26,"k":"4"},{"x":78,"y":22,"k":"4"},{"x":79,"y":21,"k":"4"},{"x":81,"y":25.5,"k":"4"},{"x":82,"y":21,"k":"4"},{"x":84,"y":23,"k":"4"},{"x":88,"y":30,"k":"4"},{"x":99.5,"y":27,"k":"4"},{"x":98,"y":27,"k":"4"},{"x":101,"y":24,"k":"4"},{"x":99.5,"y":33,"k":"4"},
{"x":41.8,"y":-68.3,"k":"5"},{"x":40.4,"y":-63.6,"k":"5"},{"x":44.9,"y":-69.5,"k":"5"},{"x":43.5,"y":-71.8,"k":"5"},{"x":42.7,"y":-73.8,"k":"5"},{"x":48.3,"y":-72,"k":"5"},{"x":48.3,"y":-73.1,"k":"5"},{"x":46.5,"y":-71.8,"k":"5"},{"x":45.1,"y":-74.9,"k":"5"},{"x":47.2,"y":-75.9,"k":"5"},{"x":43.3,"y":-76.4,"k":"5"},{"x":50.2,"y":-76.9,"k":"5"},{"x":38.8,"y":-75.4,"k":"5"},{"x":36.5,"y":-78.5,"k":"5"},{"x":37.4,"y":-79.7,"k":"5"},{"x":38.6,"y":-80.8,"k":"5"},{"x":41.1,"y":-78.2,"k":"5"},{"x":41.5,"y":-80.5,"k":"5"},{"x":43.6,"y":-79,"k":"5"},{"x":45.8,"y":-78.5,"k":"5"},{"x":48.6,"y":-78.5,"k":"5"},{"x":48.3,"y":-81,"k":"5"},{"x":45.8,"y":-81.5,"k":"5"},{"x":42,"y":-82.1,"k":"5"},{"x":40.3,"y":-83.3,"k":"5"},{"x":38.6,"y":-84.4,"k":"5"},{"x":43.6,"y":-84.1,"k":"5"},{"x":45.1,"y":-84.1,"k":"5"},{"x":46.8,"y":-84.1,"k":"5"},{"x":49.3,"y":-83.6,"k":"5"},{"x":51.1,"y":-80.5,"k":"5"},{"x":53.3,"y":-80.3,"k":"5"},{"x":54.9,"y":-81.8,"k":"5"},{"x":56.8,"y":-83.8,"k":"5"},{"x":57.5,"y":-86.9,"k":"5"},{"x":56.5,"y":-87.9,"k":"5"},{"x":55.4,"y":-88.2,"k":"5"},{"x":54,"y":-87.2,"k":"5"},{"x":52.2,"y":-86.2,"k":"5"},{"x":52.2,"y":-83.6,"k":"5"},{"x":50.4,"y":-86.2,"k":"5"},{"x":48.6,"y":-86.7,"k":"5"},{"x":46.5,"y":-86.2,"k":"5"},{"x":42.9,"y":-86.9,"k":"5"},{"x":45.4,"y":-89.2,"k":"5"},{"x":47.7,"y":-91.6,"k":"5"},{"x":46.3,"y":-93.4,"k":"5"},{"x":49.7,"y":-90.3,"k":"5"},{"x":51.7,"y":-90.5,"k":"5"},{"x":53.4,"y":-91.6,"k":"5"},{"x":52.9,"y":-95.5,"k":"5"},{"x":50.2,"y":-93.9,"k":"5"},{"x":49.3,"y":-95.7,"k":"5"},{"x":50.8,"y":-95.7,"k":"5"},{"x":50,"y":-97.5,"k":"5"},{"x":46.7,"y":-97,"k":"5"},{"x":45.4,"y":-95.9,"k":"5"},{"x":43.6,"y":-94.4,"k":"5"},{"x":45.1,"y":-91.8,"k":"5"},{"x":42.9,"y":-92.3,"k":"5"},{"x":40.1,"y":-88.5,"k":"5"},{"x":40.6,"y":-90.3,"k":"5"},{"x":39,"y":-90.5,"k":"5"},{"x":37.4,"y":-89.8,"k":"5"},{"x":36.2,"y":-88.7,"k":"5"},{"x":35.1,"y":-86.9,"k":"5"},{"x":32,"y":-90.3,"k":"5"},{"x":33.3,"y":-90,"k":"5"},{"x":34.4,"y":-89.2,"k":"5"},{"x":33,"y":-92.8,"k":"5"},{"x":35.1,"y":-92.3,"k":"5"},{"x":37.2,"y":-93.4,"k":"5"},{"x":33,"y":-97.2,"k":"5"},{"x":35.4,"y":-94.9,"k":"5"},{"x":35.4,"y":-98.5,"k":"5"},{"x":37.9,"y":-98,"k":"5"},{"x":39.4,"y":-93.9,"k":"5"},{"x":40.8,"y":-93.6,"k":"5"},{"x":40.8,"y":-98,"k":"5"},{"x":42.9,"y":-95.9,"k":"5"},{"x":45.4,"y":-98.5,"k":"5"},{"x":47.2,"y":-102.3,"k":"5"},{"x":48.6,"y":-100.3,"k":"5"},{"x":49.3,"y":-100.4,"k":"5"},{"x":34,"y":-101,"k":"5"},{"x":32.6,"y":-102.9,"k":"5"},{"x":31,"y":-103.9,"k":"5"},{"x":28.7,"y":-104.1,"k":"5"},{"x":31.5,"y":-108.3,"k":"5"},{"x":32.9,"y":-106.2,"k":"5"},{"x":34.4,"y":-102.6,"k":"5"},{"x":34.7,"y":-106.7,"k":"5"},{"x":34.7,"y":-110,"k":"5"},{"x":36.5,"y":-106.7,"k":"5"},{"x":36.5,"y":-104.1,"k":"5"},{"x":39.4,"y":-104.1,"k":"5"},{"x":40.8,"y":-103.1,"k":"5"},{"x":42.9,"y":-103.1,"k":"5"},{"x":43.6,"y":-106.5,"k":"5"},{"x":40.4,"y":-108.5,"k":"5"},{"x":41.9,"y":-108.8,"k":"5"},{"x":45.3,"y":-110.2,"k":"5"},{"x":41.5,"y":-106.2,"k":"5"},{"x":44.7,"y":-100,"k":"5"},{"x":37.9,"y":-102.1,"k":"5"},{"x":35.4,"y":-104.1,"k":"5"},{"x":32.8,"y":-104.1,"k":"5"},{"x":45.1,"y":-101,"k":"5"},{"x":42.2,"y":-100,"k":"5"},{"x":40.1,"y":-100.5,"k":"5"},{"x":28.8,"y":-29.1,"k":"5"},{"x":28.7,"y":-30.9,"k":"5"},{"x":33.3,"y":-41.7,"k":"5"},{"x":29.8,"y":-46,"k":"5"},{"x":34,"y":-45,"k":"5"},{"x":37.6,"y":-53.8,"k":"5"},{"x":38.3,"y":-54.8,"k":"5"},{"x":39.2,"y":-56.4,"k":"5"},{"x":34.2,"y":-55.3,"k":"5"},{"x":37.7,"y":-58.9,"k":"5"},{"x":55.2,"y":-54,"k":"5"},{"x":40.2,"y":-63,"k":"5"},{"x":41.3,"y":-63,"k":"5"},{"x":41.3,"y":-64.3,"k":"5"},{"x":43.4,"y":-63.4,"k":"5"},{"x":-77.2,"y":63.5,"k":"5"},{"x":-96.2,"y":-13.6,"k":"5"},{"x":-54.6,"y":-14.6,"k":"5"},{"x":-38.3,"y":-12.2,"k":"5"},{"x":-18.9,"y":-46.9,"k":"5"},{"x":11,"y":51.6,"k":"5"},{"x":3.1,"y":-3,"k":"5"},{"x":4.6,"y":-2.8,"k":"5"},{"x":52.5,"y":5.3,"k":"5"},{"x":47.3,"y":4.8,"k":"5"},
{"x":43,"y":-75,"k":"5"},{"x":45,"y":-77,"k":"5"},{"x":47,"y":-78,"k":"5"},{"x":49,"y":-76,"k":"5"},{"x":44,"y":-81,"k":"5"},{"x":47,"y":-80,"k":"5"},{"x":50,"y":-80,"k":"5"},{"x":42,"y":-84.5,"k":"5"},{"x":47.5,"y":-82,"k":"5"},{"x":49,"y":-81.5,"k":"5"},{"x":50.5,"y":-83,"k":"5"},{"x":51,"y":-82,"k":"5"},{"x":48,"y":-85,"k":"5"},{"x":49,"y":-88,"k":"5"},{"x":51,"y":-88,"k":"5"},{"x":53,"y":-89,"k":"5"},{"x":53.5,"y":-85,"k":"5"},{"x":55,"y":-85,"k":"5"},{"x":56,"y":-86,"k":"5"},{"x":46,"y":-92,"k":"5"},{"x":48.5,"y":-93,"k":"5"},{"x":47.5,"y":-95,"k":"5"},{"x":44.5,"y":-93,"k":"5"},{"x":41.5,"y":-92,"k":"5"},{"x":41,"y":-95,"k":"5"},{"x":38.5,"y":-95.5,"k":"5"},{"x":37,"y":-96,"k":"5"},{"x":35,"y":-96.5,"k":"5"},{"x":34,"y":-95,"k":"5"},{"x":36.5,"y":-91,"k":"5"},{"x":34,"y":-91,"k":"5"},{"x":38.5,"y":-92,"k":"5"},{"x":33,"y":-94.5,"k":"5"},{"x":38,"y":-100,"k":"5"},{"x":36,"y":-100.5,"k":"5"},{"x":41,"y":-100,"k":"5"},{"x":43.5,"y":-98,"k":"5"},{"x":46.5,"y":-100.5,"k":"5"},{"x":43.5,"y":-101.5,"k":"5"},{"x":45,"y":-104,"k":"5"},{"x":43,"y":-105,"k":"5"},{"x":41,"y":-105,"k":"5"},{"x":39,"y":-106,"k":"5"},{"x":38.5,"y":-103,"k":"5"},{"x":35,"y":-103,"k":"5"},{"x":33.5,"y":-104,"k":"5"},{"x":33,"y":-108,"k":"5"},{"x":36,"y":-108,"k":"5"},{"x":38,"y":-109,"k":"5"},{"x":41.5,"y":-102,"k":"5"},{"x":38.5,"y":-100,"k":"5"},{"x":44,"y":-104,"k":"5"},{"x":40,"y":-107,"k":"5"},{"x":42,"y":-107.5,"k":"5"},{"x":48,"y":-94.5,"k":"5"}
],"noise":[
{"x":-5,"y":105.2},{"x":-4.1,"y":105},{"x":-5.7,"y":103.7},{"x":-0.8,"y":103.9},{"x":1,"y":104.6},{"x":4.4,"y":102.5},{"x":-7.5,"y":95.6},{"x":-5.7,"y":90.5},{"x":-7.1,"y":82},{"x":-5.8,"y":80.8},{"x":-1.5,"y":79.4},{"x":1.5,"y":78.9},{"x":0.3,"y":76.6},{"x":-4.5,"y":74.1},{"x":-5.8,"y":69.7},{"x":9.9,"y":85.7},{"x":10.8,"y":83},{"x":13.6,"y":79.7},{"x":18.6,"y":74.5},{"x":13.9,"y":71.7},{"x":14.5,"y":68.3},{"x":13.9,"y":67.7},{"x":3.6,"y":66.8},{"x":5.4,"y":67.7},{"x":6,"y":67.5},{"x":7,"y":67.2},{"x":7.9,"y":67.8},{"x":8.35,"y":64.5},{"x":9.1,"y":64.6},{"x":3.2,"y":64.9},{"x":2.1,"y":63.5},{"x":3,"y":63.6},{"x":2.9,"y":62.8},{"x":7.8,"y":62.1},{"x":5.5,"y":56.9},{"x":3.5,"y":55.9},{"x":2.6,"y":55.1},{"x":2.6,"y":53.3},{"x":3.1,"y":52},{"x":4.4,"y":54.9},{"x":5.3,"y":54.9},{"x":5.2,"y":52.5},{"x":5.9,"y":51.5},{"x":6.6,"y":54.1},{"x":7.3,"y":54.1},{"x":8.2,"y":54.9},{"x":7.8,"y":51.8},{"x":9.8,"y":53.1},{"x":9.1,"y":50.5},{"x":10.5,"y":50.5},{"x":13.9,"y":50.2},{"x":5.2,"y":48.5},{"x":4.8,"y":46.9},{"x":8,"y":47.9},{"x":9.1,"y":47.4},{"x":9.2,"y":46.4},{"x":10.3,"y":45.1},{"x":10.3,"y":47.9},{"x":0.7,"y":45.4},{"x":0.3,"y":43.3},{"x":1.8,"y":45.9},{"x":2.8,"y":45.9},{"x":4.3,"y":45.1},{"x":5.7,"y":45.4},{"x":6.7,"y":45.1},{"x":3.5,"y":42.5},{"x":2.6,"y":41},{"x":3.4,"y":40.2},{"x":5.9,"y":42.5},{"x":6.7,"y":41.5},{"x":4.8,"y":40.2},{"x":4.4,"y":37.9},{"x":5.5,"y":37.1},{"x":5,"y":36.1},{"x":3.7,"y":34.3},{"x":4.8,"y":33.5},{"x":3,"y":32.5},{"x":3.7,"y":31.5},{"x":3.4,"y":29.9},{"x":3,"y":28.4},{"x":0.1,"y":28.4},{"x":1,"y":28.2},{"x":6.6,"y":28.2},{"x":2.5,"y":25.8},{"x":4.6,"y":25.8},{"x":2.5,"y":23.5},{"x":3.7,"y":23.3},{"x":3.4,"y":20.7},{"x":1.6,"y":21},{"x":3.6,"y":18.9},{"x":0.5,"y":35.3},{"x":1,"y":34.1},{"x":3.4,"y":26.9},{"x":4.1,"y":24.8},{"x":4.1,"y":29.4},{"x":3.7,"y":25.3},{"x":3,"y":24.3},
{"x":-20.2,"y":-45.5},{"x":-15.6,"y":-45.2},{"x":-14,"y":-44},{"x":-14.3,"y":-44.8},{"x":-13.7,"y":-46.6},{"x":-13.2,"y":-46.9},{"x":-12.4,"y":-47.4},{"x":-10.5,"y":-49.9},{"x":-19.6,"y":-49.4},{"x":-17.2,"y":-49.9},{"x":-20.1,"y":-51.6},{"x":-14.8,"y":-54.4},{"x":-34.9,"y":-52.6},{"x":-25.5,"y":-72.7},
{"x":85,"y":51.8},{"x":84,"y":49.5},{"x":84.9,"y":48.7},{"x":85,"y":47.4},{"x":87.5,"y":47.4},{"x":88.3,"y":47.8},{"x":79.3,"y":47.8},{"x":82.1,"y":48},{"x":90.7,"y":49},{"x":76,"y":45.1},{"x":77.3,"y":41.2},{"x":81.6,"y":42.5},{"x":87,"y":41.3},{"x":82.8,"y":38.9},{"x":90.8,"y":37.8},{"x":97.4,"y":37.7},{"x":98.1,"y":37.9},{"x":98.1,"y":45.1},{"x":99.5,"y":44.3},{"x":100.3,"y":45.6},{"x":102.1,"y":38.7},{"x":68.1,"y":34.9},{"x":69.8,"y":34.1},{"x":69.5,"y":33.3},{"x":71.8,"y":34.2},{"x":75,"y":33.5},{"x":76.8,"y":34.9},{"x":81.1,"y":34.3},{"x":81.1,"y":33.5},{"x":83.9,"y":34.6},{"x":83.3,"y":32.3},{"x":89.2,"y":32.5},{"x":86.1,"y":29.1},{"x":84.8,"y":27.3},{"x":78.3,"y":26.4},{"x":99.8,"y":30.2},{"x":104.5,"y":24.7},{"x":101.9,"y":22.5},{"x":88.7,"y":24.1},{"x":68.9,"y":26.6},{"x":67.8,"y":25.1},{"x":66.6,"y":24.3},{"x":68.8,"y":24.8},{"x":70.5,"y":24.7},{"x":71,"y":24.4},{"x":72.2,"y":24.8},{"x":69.1,"y":22},{"x":71.7,"y":20.3},{"x":73.7,"y":20.7},{"x":75.2,"y":19.3},{"x":78.3,"y":20},{"x":90.1,"y":20.2},{"x":90.2,"y":18.4},{"x":69.3,"y":17},{"x":70.2,"y":16.1},{"x":70.9,"y":15.8},{"x":71.8,"y":17.9},{"x":72.5,"y":17.6},{"x":73,"y":18.1},{"x":74.6,"y":13.9},{"x":76.4,"y":14.3},{"x":76.8,"y":13},{"x":77.7,"y":15.2},{"x":79.3,"y":15.8},{"x":80.3,"y":16.6},{"x":94.5,"y":16.6},{"x":93.7,"y":14.3},{"x":88.4,"y":15.6},{"x":89.4,"y":15.8},{"x":90.1,"y":15.8},{"x":90.7,"y":13.3},{"x":92.8,"y":13.3},{"x":89.8,"y":10.4},{"x":92.7,"y":10.8},{"x":95.8,"y":12},{"x":83.5,"y":15.1},{"x":84.3,"y":14},{"x":85.1,"y":14.3},{"x":86,"y":12.2},{"x":85.1,"y":11.5},{"x":82.9,"y":11.5},{"x":83.4,"y":10.2},{"x":87.7,"y":12},{"x":87.5,"y":8.9},{"x":65,"y":12},{"x":66.4,"y":12.7},{"x":67.7,"y":12},{"x":68.8,"y":11.5},{"x":67.3,"y":10.2},{"x":64.8,"y":9.4},{"x":71.4,"y":9.9},{"x":72.5,"y":10.7},{"x":73,"y":9.9},{"x":75,"y":8.4},{"x":76.6,"y":8.9},{"x":79.4,"y":9.4},{"x":68.2,"y":8.6},{"x":78,"y":8.4},
{"x":62,"y":18.9},{"x":61.5,"y":18.1},{"x":60.8,"y":15.8},{"x":57.7,"y":15.6},{"x":57.5,"y":13.5},{"x":60.1,"y":13.5},{"x":56.7,"y":11.2},{"x":55,"y":12.7},{"x":54.4,"y":12.5},{"x":54.7,"y":10.7},{"x":52.4,"y":11.7},{"x":52,"y":10.7},{"x":52,"y":8.9},{"x":52.8,"y":7.6},{"x":54,"y":9.1},{"x":55.2,"y":9.9},{"x":54.6,"y":7.9},{"x":60.3,"y":9.4},{"x":59.1,"y":8.9},{"x":57.7,"y":7.9},{"x":61.9,"y":7.2},{"x":62.8,"y":6.1},{"x":63.8,"y":7.6},{"x":65.1,"y":9.4},{"x":65,"y":10.9},{"x":66.3,"y":7.9},{"x":64.4,"y":5.8},{"x":64.7,"y":4},{"x":67.7,"y":6.1},{"x":69.1,"y":5.8},{"x":70.8,"y":4.5},{"x":69.8,"y":3},{"x":70.2,"y":7.9},{"x":71.4,"y":9.9},{"x":72.4,"y":10.7},{"x":72,"y":7.9},{"x":73.4,"y":7.9},{"x":74.9,"y":8.4},{"x":73.5,"y":5.8},{"x":78.1,"y":8.1},{"x":79.4,"y":9.7},{"x":80.8,"y":7.6},{"x":80,"y":6.3},{"x":81.2,"y":6.6},{"x":76.1,"y":5.3},{"x":77.7,"y":4.5},{"x":76.3,"y":3.8},{"x":77.3,"y":2.7},{"x":73.6,"y":2.5},{"x":74.5,"y":0.7},{"x":75.7,"y":1.2},{"x":77.1,"y":1.2},{"x":78.5,"y":1.7},{"x":77.7,"y":-0.6},{"x":79.2,"y":-0.9},{"x":80,"y":-0.4},{"x":80.8,"y":1.2},{"x":81.4,"y":2.2},{"x":70.6,"y":0.9},{"x":67.9,"y":1.2},{"x":66.9,"y":1.7},{"x":67.7,"y":-0.6},{"x":64.4,"y":0.9},{"x":65.7,"y":-1.4},{"x":64.4,"y":-1.9},{"x":63.2,"y":-2.9},{"x":62.2,"y":-4},{"x":60.9,"y":-2.3},{"x":46.6,"y":8.1},{"x":48.1,"y":6.8},{"x":49.7,"y":7.3},{"x":51.2,"y":6.6},{"x":52.6,"y":5},{"x":53,"y":4.8},{"x":53.8,"y":3.2},{"x":54.6,"y":6.8},{"x":54.4,"y":4.5},{"x":50.7,"y":4},{"x":47.7,"y":2.7},{"x":46.6,"y":4.8},{"x":45,"y":5.3},{"x":43.2,"y":4.3},{"x":44.6,"y":3.5},{"x":45.8,"y":4.3},{"x":40.3,"y":5.5},{"x":41.3,"y":4},{"x":39.1,"y":3.2},{"x":37.9,"y":2},{"x":37.2,"y":3},{"x":36,"y":2.5},{"x":34.6,"y":1.4},{"x":35.8,"y":0.4},{"x":31.3,"y":3.8},{"x":39.9,"y":-0.1},{"x":52,"y":0.2},{"x":52.8,"y":0.9},{"x":51.8,"y":0.4},{"x":56.7,"y":3.5},{"x":57.9,"y":3.5},{"x":58.8,"y":3.8},{"x":49.5,"y":-4},{"x":49.9,"y":-4.7},{"x":49.1,"y":-3.7},{"x":32.7,"y":0.4},{"x":33.6,"y":0.7},{"x":30.1,"y":1.2},{"x":28.2,"y":-0.1},{"x":23.7,"y":0.9},{"x":26,"y":2.1},{"x":25,"y":0.4},{"x":26.2,"y":0.2},{"x":22.9,"y":-0.9},{"x":20.9,"y":-1.9},{"x":22.1,"y":-1.9},{"x":23.9,"y":-1.6},{"x":25.8,"y":-1.9},{"x":27,"y":-1.1},{"x":29.9,"y":-0.4},{"x":31.5,"y":-0.1},
{"x":-19.1,"y":-11.4},{"x":-18.2,"y":-11.2},{"x":-17.1,"y":-10.9},{"x":-16.1,"y":-11.2},{"x":-14.8,"y":-10.1},{"x":-14.5,"y":-8.3},{"x":-13.6,"y":-7.1},{"x":-12.7,"y":-6.8},{"x":-12,"y":-6.5},{"x":-12.3,"y":-8.8},{"x":-14.3,"y":-12.4},{"x":-12.2,"y":-12.4},{"x":-10.7,"y":-8.8},{"x":-10,"y":-7.3},{"x":-9.3,"y":-9.4},{"x":-8,"y":-9.9},{"x":-10.7,"y":-10.9},{"x":-6.4,"y":-9.4},{"x":-6.3,"y":-10.9},{"x":-5.9,"y":-0.4},{"x":-6.1,"y":-1.6},{"x":-5,"y":-1.6},{"x":-3.9,"y":-3},{"x":-3,"y":-3.2},{"x":-3.4,"y":-5},{"x":-1.3,"y":-4.2},{"x":-1.8,"y":-6},{"x":-2.7,"y":-6},{"x":-3.9,"y":-8.8},{"x":-3.8,"y":-10.1},{"x":-3,"y":-10.4},{"x":-1.6,"y":-10.6},{"x":-0.6,"y":-9.4},{"x":-3.9,"y":-12.7},{"x":-2.7,"y":-12.7},{"x":-1.6,"y":-13.2},{"x":-0.9,"y":-13.5},{"x":-3,"y":-15.3},{"x":-1.6,"y":-15.5},{"x":-0.7,"y":-15.3},{"x":0.4,"y":-15.3},{"x":-6,"y":-16},{"x":-4.1,"y":-17.3},{"x":-4.8,"y":-19.1},{"x":-5.4,"y":-20.4},{"x":-6.1,"y":-22},{"x":-4,"y":-22},{"x":-3.2,"y":-22.5},{"x":-7.3,"y":-23.5},{"x":-6.6,"y":-23},{"x":-7.5,"y":-25},{"x":-7.2,"y":-25.5},{"x":-6.3,"y":-26.8},{"x":-7.9,"y":-28.4},{"x":-8,"y":-29.6},{"x":-9.1,"y":-30.4},{"x":-10.2,"y":-30.9},{"x":-10.7,"y":-29.9},{"x":-11.6,"y":-18.9},{"x":-10.9,"y":-19.8},{"x":1,"y":-12.4},{"x":1.2,"y":-3.4},{"x":0.9,"y":-7.1},{"x":1.6,"y":-8.1},{"x":2.5,"y":-8.1},{"x":2.3,"y":-9.1},{"x":0,"y":-8.1},{"x":1.2,"y":-9.6},{"x":3.4,"y":-8.6},{"x":4.8,"y":-8.1},{"x":2.6,"y":-6.5},{"x":3.7,"y":-5},{"x":3,"y":-2.4},{"x":4.8,"y":-3},{"x":5.7,"y":-2.4},{"x":6,"y":-7.1},{"x":5.9,"y":-5.5},{"x":7.5,"y":-6.3},{"x":7.6,"y":-4.7},{"x":9,"y":-7.1},{"x":10,"y":-6.5},{"x":10.3,"y":-5.5},{"x":11.6,"y":-5.8},{"x":12.6,"y":-5.5},{"x":13.2,"y":-2.8},{"x":14.2,"y":-3.7},{"x":15,"y":-4.5},{"x":2.3,"y":2.5},{"x":3.4,"y":2.7},{"x":4.6,"y":2.5},{"x":1.8,"y":1.2},{"x":3,"y":1},{"x":4.8,"y":1.4},{"x":4.3,"y":-0.1},{"x":2.8,"y":-0.6},{"x":3.7,"y":-1.4},{"x":16.9,"y":-1.9},{"x":20.5,"y":-2.4},{"x":21.5,"y":-1.9},{"x":22.2,"y":-1.9},{"x":23.1,"y":-0.1},{"x":25.1,"y":0.7},{"x":24,"y":-1.6},{"x":25.1,"y":-1.6},{"x":27.2,"y":-1.1},{"x":28.3,"y":-0.1},{"x":29.7,"y":1.2},{"x":29.7,"y":-0.4},{"x":2.3,"y":-4},{"x":3.4,"y":-3.4},{"x":3.7,"y":-6},{"x":-0.2,"y":-9.6},{"x":-1.3,"y":-11.7},{"x":-2,"y":-14.2},
{"x":24.6,"y":-28.4},{"x":25.5,"y":-28.4},{"x":27.7,"y":-28.1},{"x":24.6,"y":-30.4},{"x":26.2,"y":-29.6},{"x":27.2,"y":-30.2},{"x":28.8,"y":-29.6},{"x":26,"y":-32.5},{"x":27.8,"y":-31.7},{"x":28.8,"y":-33},{"x":29.6,"y":-33.5},{"x":27.4,"y":-34.5},{"x":30.6,"y":-36},{"x":32.1,"y":-36.6},{"x":30.3,"y":-36.6},{"x":30.1,"y":-39.1},{"x":31.3,"y":-38.6},{"x":32.4,"y":-37.9},{"x":32.2,"y":-39.7},{"x":29.6,"y":-42.5},{"x":30.6,"y":-42.7},{"x":31.7,"y":-42.2},{"x":32.6,"y":-40.9},{"x":33.5,"y":-42.5},{"x":33.8,"y":-44},{"x":34.7,"y":-44.3},{"x":34.9,"y":-45.6},{"x":30.3,"y":-45.6},{"x":36.5,"y":-40.9},{"x":36,"y":-42.5},{"x":36.8,"y":-45.3},{"x":33.8,"y":-46.6},{"x":33.1,"y":-47.9},{"x":34.9,"y":-47.9},{"x":36.9,"y":-46.9},{"x":37,"y":-48.1},{"x":31.2,"y":-49.9},{"x":32,"y":-49.7},{"x":35.4,"y":-50.7},{"x":36.3,"y":-51.5},{"x":25.3,"y":-51.5},{"x":26.3,"y":-51.2},{"x":34.6,"y":-55.6},{"x":36.5,"y":-55.6},{"x":37.6,"y":-54.8},{"x":36.7,"y":-57.6},{"x":37.6,"y":-58.4},{"x":38.8,"y":-59.2},{"x":39.7,"y":-56.9},{"x":40.5,"y":-57.9},{"x":42.2,"y":-56.1},{"x":42.9,"y":-55.3},{"x":43.8,"y":-55.3},{"x":45.2,"y":-55.8},{"x":47,"y":-55.8},{"x":42.4,"y":-57.4},{"x":43.8,"y":-57.9},{"x":44.7,"y":-58.4},{"x":46.3,"y":-58.2},{"x":42.7,"y":-59.4},{"x":42.4,"y":-61.2},{"x":46.8,"y":-60.5},{"x":49,"y":-55.8},{"x":50,"y":-55.6},{"x":48.4,"y":-57.9},{"x":49.5,"y":-59.9},{"x":50.9,"y":-58.2},{"x":51.7,"y":-47.4},{"x":52.9,"y":-47.9},{"x":53.6,"y":-47.1},{"x":54,"y":-45.6},{"x":54.9,"y":-44.8},{"x":52,"y":-50.2},{"x":53.6,"y":-50.7},{"x":51.7,"y":-51.5},{"x":53.1,"y":-52.8},{"x":54.9,"y":-52.5},{"x":53.8,"y":-54.8},{"x":52.5,"y":-56.4},{"x":54.5,"y":-56.1},{"x":52.5,"y":-58.7},{"x":54.7,"y":-58.2},{"x":53.1,"y":-61},{"x":54.5,"y":-61.7},{"x":55.2,"y":-61.7},{"x":42.9,"y":-63},{"x":43.6,"y":-63.3},{"x":45.6,"y":-63.3},{"x":46.5,"y":-62.5},{"x":45.2,"y":-65.1},{"x":49,"y":-63},{"x":49.9,"y":-64.1},{"x":42.2,"y":-65.3},{"x":43.3,"y":-67.4},{"x":45.1,"y":-67.4},{"x":47.2,"y":-66.6},{"x":49.5,"y":-67.4},
{"x":42.2,"y":-65.4},{"x":45.2,"y":-65.1},{"x":41.7,"y":-68.2},{"x":43.3,"y":-67.7},{"x":44.9,"y":-67.7},{"x":45.8,"y":-67.7},{"x":46.4,"y":-68.2},{"x":47.2,"y":-66.6},{"x":49.6,"y":-67.8},{"x":51.6,"y":-73.8},{"x":51,"y":-75.9},{"x":35.9,"y":-78.7},{"x":41.3,"y":-79.5},{"x":56.5,"y":-79.8},{"x":57.4,"y":-81},{"x":58.4,"y":-80.8},{"x":56.4,"y":-84.3},{"x":58.4,"y":-86.2},{"x":30.5,"y":-85.5},{"x":33.8,"y":-85.6},{"x":34.6,"y":-86.2},{"x":42.6,"y":-88.1},{"x":42.6,"y":-91.6},{"x":30.9,"y":-92.9},{"x":31.2,"y":-96.8},{"x":53.4,"y":-95.2},{"x":42.9,"y":-98.5},{"x":28.6,"y":-103.1},{"x":28.6,"y":-104.1},{"x":30.8,"y":-103.6},{"x":45.2,"y":-103.1},{"x":46.6,"y":-105.3},{"x":30.9,"y":-107},{"x":30.3,"y":-108.3},{"x":31.8,"y":-108.5},{"x":33.1,"y":-109.3},{"x":34.8,"y":-110.8},{"x":38.6,"y":-107.9},{"x":42.5,"y":-110.2},
{"x":-79.1,"y":63.6},{"x":-78.4,"y":63.6},{"x":-77.7,"y":63.6},{"x":-79.3,"y":62.6},{"x":-79.3,"y":61.3},{"x":-78.7,"y":59.8},{"x":-76.7,"y":60.3},{"x":-76,"y":54.2},{"x":-78.7,"y":51},{"x":-78.7,"y":46.3},{"x":-64.8,"y":67.5},{"x":-51.3,"y":65.9},{"x":-49.3,"y":63.2},{"x":-52.7,"y":62.6},{"x":-52.6,"y":61.8},{"x":-50.4,"y":62.1},{"x":-62.8,"y":54.2},{"x":-62.2,"y":51.5},{"x":-68.6,"y":45},{"x":-66.2,"y":43.3},{"x":-41.3,"y":48.7},{"x":-40.6,"y":48.7},{"x":-39.9,"y":49.2},{"x":-39.4,"y":49.5},{"x":-38.1,"y":44.6},{"x":-37.6,"y":44.9},{"x":-33.5,"y":44.3},{"x":-51.3,"y":42},{"x":-51.8,"y":40.5},{"x":-50.7,"y":40.2},{"x":-47.5,"y":39.2},{"x":-46.9,"y":40},{"x":-62,"y":36.9},{"x":-60.8,"y":36.4},{"x":-44,"y":40.2},{"x":-41.9,"y":40.5},{"x":-40.1,"y":40},{"x":-38.7,"y":40.5},{"x":-37.2,"y":40.5},{"x":-42.8,"y":38.4},{"x":-42.6,"y":37.1},{"x":-41,"y":38.9},{"x":-40.8,"y":36.1},{"x":-44.5,"y":35.9},{"x":-43.8,"y":34.8},{"x":-38.7,"y":37.7},{"x":-37.2,"y":36.6},{"x":-39.7,"y":34.6},{"x":-38.7,"y":35.1},{"x":-38.3,"y":33},{"x":-37.1,"y":33.3},{"x":-35.4,"y":33},{"x":-44,"y":33},{"x":-42.9,"y":32.5},{"x":-43.7,"y":32},{"x":-39.7,"y":29.7},{"x":-37.8,"y":29.7},{"x":-36.9,"y":30},{"x":-36.2,"y":30},{"x":-36.5,"y":28.4},{"x":-35.7,"y":27.9},{"x":-37.4,"y":32},
{"x":-101.5,"y":-1.5},{"x":-101.9,"y":-2.8},{"x":-104.4,"y":-3.9},{"x":-106.6,"y":-6.2},{"x":-94.1,"y":-5.2},{"x":-89.8,"y":-3.7},{"x":-100.1,"y":-7.3},{"x":-98,"y":-8.1},{"x":-97.5,"y":-7.5},{"x":-97,"y":-8.8},{"x":-96.2,"y":-8.3},{"x":-102,"y":-8.5},{"x":-102,"y":-10.1},{"x":-114,"y":-11.3},{"x":-95.1,"y":-10.2},{"x":-95.2,"y":-12.6},{"x":-100.9,"y":-14},{"x":-98.4,"y":-15.2},{"x":-92.1,"y":-9.2},{"x":-91.4,"y":-10.1},{"x":-90.7,"y":-9.6},{"x":-89.7,"y":-9.6},{"x":-89.7,"y":-12.2},{"x":-85.8,"y":-12},{"x":-84.3,"y":-12.2},{"x":-84.2,"y":-13.3},{"x":-83.1,"y":-13.3},{"x":-82.7,"y":-11.8},{"x":-80.5,"y":-11.6},{"x":-80.5,"y":-13.6},{"x":-77.2,"y":-9.6},{"x":-77.9,"y":-11.2},{"x":-75.2,"y":-9.9},{"x":-78.4,"y":-13.2},{"x":-74.3,"y":-12.4},{"x":-77.2,"y":-15.8},{"x":-76.5,"y":-15},{"x":-74.7,"y":-16.8},{"x":-73.4,"y":-17.6},{"x":-91.8,"y":-16.8},{"x":-90.2,"y":-17.1},{"x":-87.2,"y":-17.3},{"x":-85.9,"y":-17.3},{"x":-84.8,"y":-18.4},{"x":-91.7,"y":-19.4},{"x":-95,"y":-20.5},{"x":-100.2,"y":-20.8},{"x":-84.8,"y":-20.5},{"x":-82.2,"y":-19.4},{"x":-82.2,"y":-21.4},{"x":-79.3,"y":-21},{"x":-118.3,"y":-23.9},{"x":-87.9,"y":-23.5},{"x":-87.2,"y":-25.1},{"x":-85.6,"y":-24.3},{"x":-110.1,"y":-29.8},{"x":-102.5,"y":-28.9},{"x":-97,"y":-29.7},{"x":-94.9,"y":-28.9},{"x":-93.4,"y":-29.9},{"x":-90.4,"y":-29},{"x":-108.4,"y":-32.7},{"x":-107.6,"y":-33.8},{"x":-99.3,"y":-33.9},
{"x":-80.6,"y":-11.4},{"x":-80.4,"y":-13.7},{"x":-79.3,"y":-11.7},{"x":-78.4,"y":-13.2},{"x":-77.7,"y":-10.6},{"x":-77.2,"y":-9.4},{"x":-76.5,"y":-11.2},{"x":-75.2,"y":-9.6},{"x":-75.8,"y":-13.2},{"x":-74.5,"y":-12.2},{"x":-75.2,"y":-15},{"x":-73.3,"y":-13.5},{"x":-77.2,"y":-15.5},{"x":-76.5,"y":-14.7},{"x":-74.5,"y":-16.5},{"x":-73.4,"y":-17.6},{"x":-72.7,"y":-15.3},{"x":-71.7,"y":-18.3},{"x":-72.5,"y":-8.6},{"x":-71.8,"y":-10.6},{"x":-70.4,"y":-9.6},{"x":-70.4,"y":-11.9},{"x":-71.8,"y":-13},{"x":-70,"y":-13.7},{"x":-68.6,"y":-10.6},{"x":-68.1,"y":-15.3},{"x":-66.8,"y":-9.4},{"x":-66.1,"y":-10.4},{"x":-65.1,"y":-8.6},{"x":-64.5,"y":-10.1},{"x":-63.3,"y":-9.6},{"x":-61.9,"y":-8.1},{"x":-61.1,"y":-6.3},{"x":-62.6,"y":-7.3},{"x":-59.7,"y":-7},{"x":-61.7,"y":-9.6},{"x":-64,"y":-12.2},{"x":-62.7,"y":-11.7},{"x":-64,"y":-13.5},{"x":-62.6,"y":-14},{"x":-61.3,"y":-13.7},{"x":-60.6,"y":-11.9},{"x":-59.4,"y":-10.1},{"x":-58.7,"y":-11.2},{"x":-58.5,"y":-13.7},{"x":-57.2,"y":-12.7},{"x":-56,"y":-9.6},{"x":-54.9,"y":-10.6},{"x":-53.8,"y":-8.8},{"x":-53.7,"y":-11.7},{"x":-52.6,"y":-11.2},{"x":-52.7,"y":-12.7},{"x":-54.6,"y":-14.5},{"x":-66.1,"y":-16},{"x":-64.9,"y":-15.5},{"x":-63.6,"y":-16.8},{"x":-66.1,"y":-17.8},{"x":-65.1,"y":-18.1},{"x":-60.3,"y":-15.8},{"x":-60.3,"y":-17.3},{"x":-50.5,"y":-8.1},{"x":-49,"y":-8.8},{"x":-47.6,"y":-9.4},{"x":-46.9,"y":-9.1},{"x":-45.8,"y":-10.4},{"x":-49.2,"y":-12.4},{"x":-48,"y":-12.4},{"x":-48.9,"y":-15.8},{"x":-48,"y":-15.5},{"x":-46.7,"y":-14.2},{"x":-45.5,"y":-13},{"x":-44,"y":-10.6},{"x":-44,"y":-13.2},{"x":-42.8,"y":-10.1},{"x":-42.6,"y":-7},{"x":-42.1,"y":-8.6},{"x":-40.8,"y":-12.7},{"x":-41.2,"y":-10.9},{"x":-39.4,"y":-10.9},{"x":-36.9,"y":-8.3},{"x":-36.9,"y":-11.2},{"x":-35.8,"y":-12.4},{"x":-34.8,"y":-11.2},{"x":-33.4,"y":-12.7},{"x":-38.3,"y":-15.5},{"x":-50.5,"y":-19.1},{"x":-49.2,"y":-19.9},{"x":-48.5,"y":-18.3},{"x":-47.1,"y":-18.1},{"x":-45.1,"y":-17.8},{"x":-44.2,"y":-15.3},{"x":-43.9,"y":-16.8},{"x":-42.8,"y":-17.1},{"x":-41.6,"y":-17.8},{"x":-40.3,"y":-18.9}
]},
"encoding":{"x":{"field":"x","type":"quantitative","scale":{"domain":[-132.8,115.6],"nice":false,"zero":false},"axis":{"values":[-100,-50,0,50,100]}},"y":{"field":"y","type":"quantitative","scale":{"domain":[-121.6,115.5],"nice":false,"zero":false},"axis":{"values":[-100,-50,0,50,100]}}},
"layer":[
{"data":{"name":"clusters"},"mark":{"type":"point","shape":"circle","filled":true,"size":440,"opacity":1},"encoding":{"color":{"field":"k","type":"nominal","scale":{"domain":["0","1","2","3","4","5"],"range":["#1f77b4","#ff7f0e","#2ca02c","#d62728","#9467bd","#8c564b"]},"legend":null}}},
{"data":{"name":"noise"},"mark":{"type":"point","shape":"M-1,-1L1,-1L0,1Z","filled":true,"size":290,"color":"black","opacity":1}}
]}
